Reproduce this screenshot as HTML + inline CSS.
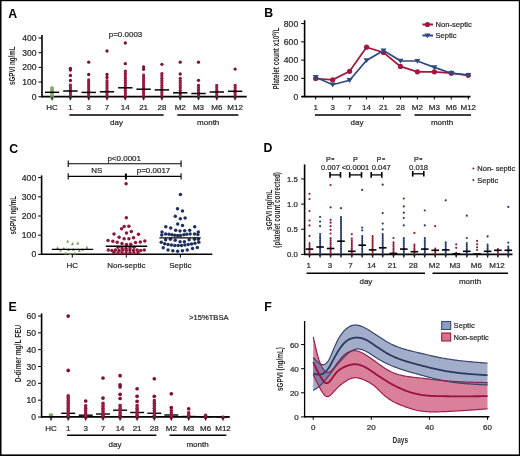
<!DOCTYPE html>
<html><head><meta charset="utf-8"><style>
html,body{margin:0;padding:0;background:#fff;}
svg{display:block;font-family:"Liberation Sans", sans-serif;will-change:transform;}
</style></head><body>
<svg width="520" height="456" viewBox="0 0 520 456">
<rect width="520" height="456" fill="#fff"/>
<rect x="0" y="0" width="520" height="1.2" fill="#000"/><rect x="0" y="0" width="1.5" height="456" fill="#000"/><rect x="518.8" y="0" width="1.2" height="456" fill="#000"/><rect x="0" y="454.4" width="520" height="1.6" fill="#000"/>
<text x="8.20" y="17.90" font-size="12.3" text-anchor="start" fill="#000" stroke="#000" stroke-width="0" font-weight="bold" >A</text>
<text x="264.20" y="17.00" font-size="12.3" text-anchor="start" fill="#000" stroke="#000" stroke-width="0" font-weight="bold" >B</text>
<text x="9.30" y="152.80" font-size="12.3" text-anchor="start" fill="#000" stroke="#000" stroke-width="0" font-weight="bold" >C</text>
<text x="263.60" y="152.30" font-size="12.3" text-anchor="start" fill="#000" stroke="#000" stroke-width="0" font-weight="bold" >D</text>
<text x="8.50" y="310.90" font-size="12.3" text-anchor="start" fill="#000" stroke="#000" stroke-width="0" font-weight="bold" >E</text>
<text x="264.20" y="310.90" font-size="12.3" text-anchor="start" fill="#000" stroke="#000" stroke-width="0" font-weight="bold" >F</text>
<line x1="42.00" y1="35.00" x2="42.00" y2="97.30" stroke="#000" stroke-width="1.6"/>
<line x1="38.50" y1="96.70" x2="42.00" y2="96.70" stroke="#000" stroke-width="1"/>
<text x="36.50" y="99.70" font-size="8.6" text-anchor="end" fill="#2a2a2a" stroke="#2a2a2a" stroke-width="0.22" font-weight="normal" >0</text>
<line x1="38.50" y1="82.03" x2="42.00" y2="82.03" stroke="#000" stroke-width="1"/>
<text x="36.50" y="85.03" font-size="8.6" text-anchor="end" fill="#2a2a2a" stroke="#2a2a2a" stroke-width="0.22" font-weight="normal" >100</text>
<line x1="38.50" y1="67.36" x2="42.00" y2="67.36" stroke="#000" stroke-width="1"/>
<text x="36.50" y="70.36" font-size="8.6" text-anchor="end" fill="#2a2a2a" stroke="#2a2a2a" stroke-width="0.22" font-weight="normal" >200</text>
<line x1="38.50" y1="52.69" x2="42.00" y2="52.69" stroke="#000" stroke-width="1"/>
<text x="36.50" y="55.69" font-size="8.6" text-anchor="end" fill="#2a2a2a" stroke="#2a2a2a" stroke-width="0.22" font-weight="normal" >300</text>
<line x1="38.50" y1="38.02" x2="42.00" y2="38.02" stroke="#000" stroke-width="1"/>
<text x="36.50" y="41.02" font-size="8.6" text-anchor="end" fill="#2a2a2a" stroke="#2a2a2a" stroke-width="0.22" font-weight="normal" >400</text>
<line x1="41.20" y1="96.60" x2="246.70" y2="96.60" stroke="#000" stroke-width="1.6"/>
<text x="52.10" y="110.20" font-size="8" text-anchor="middle" fill="#2a2a2a" stroke="#2a2a2a" stroke-width="0.22" font-weight="normal" >HC</text>
<text x="70.40" y="110.20" font-size="8" text-anchor="middle" fill="#2a2a2a" stroke="#2a2a2a" stroke-width="0.22" font-weight="normal" >1</text>
<text x="88.70" y="110.20" font-size="8" text-anchor="middle" fill="#2a2a2a" stroke="#2a2a2a" stroke-width="0.22" font-weight="normal" >3</text>
<text x="107.00" y="110.20" font-size="8" text-anchor="middle" fill="#2a2a2a" stroke="#2a2a2a" stroke-width="0.22" font-weight="normal" >7</text>
<text x="125.30" y="110.20" font-size="8" text-anchor="middle" fill="#2a2a2a" stroke="#2a2a2a" stroke-width="0.22" font-weight="normal" >14</text>
<text x="143.60" y="110.20" font-size="8" text-anchor="middle" fill="#2a2a2a" stroke="#2a2a2a" stroke-width="0.22" font-weight="normal" >21</text>
<text x="161.90" y="110.20" font-size="8" text-anchor="middle" fill="#2a2a2a" stroke="#2a2a2a" stroke-width="0.22" font-weight="normal" >28</text>
<text x="180.20" y="110.20" font-size="8" text-anchor="middle" fill="#2a2a2a" stroke="#2a2a2a" stroke-width="0.22" font-weight="normal" >M2</text>
<text x="198.50" y="110.20" font-size="8" text-anchor="middle" fill="#2a2a2a" stroke="#2a2a2a" stroke-width="0.22" font-weight="normal" >M3</text>
<text x="216.80" y="110.20" font-size="8" text-anchor="middle" fill="#2a2a2a" stroke="#2a2a2a" stroke-width="0.22" font-weight="normal" >M6</text>
<text x="235.10" y="110.20" font-size="8" text-anchor="middle" fill="#2a2a2a" stroke="#2a2a2a" stroke-width="0.22" font-weight="normal" >M12</text>
<line x1="69.40" y1="115.00" x2="163.60" y2="115.00" stroke="#000" stroke-width="1.5"/>
<line x1="177.30" y1="115.00" x2="238.40" y2="115.00" stroke="#000" stroke-width="1.5"/>
<text x="116.50" y="125.30" font-size="8" text-anchor="middle" fill="#2a2a2a" stroke="#2a2a2a" stroke-width="0.22" font-weight="normal" >day</text>
<text x="208.20" y="125.30" font-size="8" text-anchor="middle" fill="#2a2a2a" stroke="#2a2a2a" stroke-width="0.22" font-weight="normal" >month</text>
<text transform="translate(15.30,65.70) rotate(-90)" x="-19.25" y="0" font-size="8.5" text-anchor="start" textLength="38.5" lengthAdjust="spacingAndGlyphs" fill="#2a2a2a" font-weight="bold">sGPVI ng/mL</text>
<text x="125.50" y="37.00" font-size="8" text-anchor="middle" fill="#2a2a2a" stroke="#2a2a2a" stroke-width="0.22" font-weight="normal" >p=0.0003</text>
<rect x="50.71" y="86.75" width="2.78" height="10.90" fill="#82a763"/>
<circle cx="52.10" cy="97.65" r="1.85" fill="#82a763"/>
<circle cx="52.10" cy="95.25" r="1.85" fill="#82a763"/>
<circle cx="52.10" cy="92.85" r="1.85" fill="#82a763"/>
<circle cx="52.10" cy="90.45" r="1.85" fill="#82a763"/>
<circle cx="52.10" cy="88.05" r="1.85" fill="#82a763"/>
<line x1="45.00" y1="92.30" x2="59.20" y2="92.30" stroke="#000" stroke-width="1.5"/>
<circle cx="70.40" cy="68.30" r="1.65" fill="#7e1032"/>
<circle cx="70.40" cy="70.00" r="1.65" fill="#7e1032"/>
<circle cx="70.40" cy="75.50" r="1.65" fill="#7e1032"/>
<circle cx="70.40" cy="80.50" r="1.65" fill="#7e1032"/>
<rect x="69.24" y="83.55" width="2.33" height="13.90" fill="#961a42"/>
<circle cx="70.40" cy="97.45" r="1.55" fill="#961a42"/>
<circle cx="70.40" cy="95.05" r="1.55" fill="#961a42"/>
<circle cx="70.40" cy="92.65" r="1.55" fill="#961a42"/>
<circle cx="70.40" cy="90.25" r="1.55" fill="#961a42"/>
<circle cx="70.40" cy="87.85" r="1.55" fill="#961a42"/>
<circle cx="70.40" cy="85.45" r="1.55" fill="#961a42"/>
<circle cx="88.70" cy="62.20" r="1.65" fill="#7e1032"/>
<circle cx="88.70" cy="74.50" r="1.65" fill="#7e1032"/>
<rect x="87.54" y="78.35" width="2.33" height="19.10" fill="#961a42"/>
<circle cx="88.70" cy="97.45" r="1.55" fill="#961a42"/>
<circle cx="88.70" cy="95.05" r="1.55" fill="#961a42"/>
<circle cx="88.70" cy="92.65" r="1.55" fill="#961a42"/>
<circle cx="88.70" cy="90.25" r="1.55" fill="#961a42"/>
<circle cx="88.70" cy="87.85" r="1.55" fill="#961a42"/>
<circle cx="88.70" cy="85.45" r="1.55" fill="#961a42"/>
<circle cx="88.70" cy="83.05" r="1.55" fill="#961a42"/>
<circle cx="88.70" cy="80.65" r="1.55" fill="#961a42"/>
<circle cx="107.00" cy="51.00" r="1.65" fill="#7e1032"/>
<circle cx="107.00" cy="74.50" r="1.65" fill="#7e1032"/>
<circle cx="107.00" cy="77.50" r="1.65" fill="#7e1032"/>
<rect x="105.84" y="80.55" width="2.33" height="16.90" fill="#961a42"/>
<circle cx="107.00" cy="97.45" r="1.55" fill="#961a42"/>
<circle cx="107.00" cy="95.05" r="1.55" fill="#961a42"/>
<circle cx="107.00" cy="92.65" r="1.55" fill="#961a42"/>
<circle cx="107.00" cy="90.25" r="1.55" fill="#961a42"/>
<circle cx="107.00" cy="87.85" r="1.55" fill="#961a42"/>
<circle cx="107.00" cy="85.45" r="1.55" fill="#961a42"/>
<circle cx="107.00" cy="83.05" r="1.55" fill="#961a42"/>
<circle cx="107.00" cy="80.65" r="1.55" fill="#961a42"/>
<circle cx="125.30" cy="43.00" r="1.65" fill="#7e1032"/>
<circle cx="125.30" cy="63.70" r="1.65" fill="#7e1032"/>
<rect x="124.14" y="69.95" width="2.33" height="27.50" fill="#961a42"/>
<circle cx="125.30" cy="97.45" r="1.55" fill="#961a42"/>
<circle cx="125.30" cy="95.05" r="1.55" fill="#961a42"/>
<circle cx="125.30" cy="92.65" r="1.55" fill="#961a42"/>
<circle cx="125.30" cy="90.25" r="1.55" fill="#961a42"/>
<circle cx="125.30" cy="87.85" r="1.55" fill="#961a42"/>
<circle cx="125.30" cy="85.45" r="1.55" fill="#961a42"/>
<circle cx="125.30" cy="83.05" r="1.55" fill="#961a42"/>
<circle cx="125.30" cy="80.65" r="1.55" fill="#961a42"/>
<circle cx="125.30" cy="78.25" r="1.55" fill="#961a42"/>
<circle cx="125.30" cy="75.85" r="1.55" fill="#961a42"/>
<circle cx="125.30" cy="73.45" r="1.55" fill="#961a42"/>
<circle cx="125.30" cy="71.05" r="1.55" fill="#961a42"/>
<circle cx="143.60" cy="67.00" r="1.65" fill="#7e1032"/>
<circle cx="143.60" cy="69.30" r="1.65" fill="#7e1032"/>
<rect x="142.44" y="73.55" width="2.33" height="23.90" fill="#961a42"/>
<circle cx="143.60" cy="97.45" r="1.55" fill="#961a42"/>
<circle cx="143.60" cy="95.05" r="1.55" fill="#961a42"/>
<circle cx="143.60" cy="92.65" r="1.55" fill="#961a42"/>
<circle cx="143.60" cy="90.25" r="1.55" fill="#961a42"/>
<circle cx="143.60" cy="87.85" r="1.55" fill="#961a42"/>
<circle cx="143.60" cy="85.45" r="1.55" fill="#961a42"/>
<circle cx="143.60" cy="83.05" r="1.55" fill="#961a42"/>
<circle cx="143.60" cy="80.65" r="1.55" fill="#961a42"/>
<circle cx="143.60" cy="78.25" r="1.55" fill="#961a42"/>
<circle cx="143.60" cy="75.85" r="1.55" fill="#961a42"/>
<circle cx="161.90" cy="64.30" r="1.65" fill="#7e1032"/>
<rect x="160.74" y="72.55" width="2.33" height="24.90" fill="#961a42"/>
<circle cx="161.90" cy="97.45" r="1.55" fill="#961a42"/>
<circle cx="161.90" cy="95.05" r="1.55" fill="#961a42"/>
<circle cx="161.90" cy="92.65" r="1.55" fill="#961a42"/>
<circle cx="161.90" cy="90.25" r="1.55" fill="#961a42"/>
<circle cx="161.90" cy="87.85" r="1.55" fill="#961a42"/>
<circle cx="161.90" cy="85.45" r="1.55" fill="#961a42"/>
<circle cx="161.90" cy="83.05" r="1.55" fill="#961a42"/>
<circle cx="161.90" cy="80.65" r="1.55" fill="#961a42"/>
<circle cx="161.90" cy="78.25" r="1.55" fill="#961a42"/>
<circle cx="161.90" cy="75.85" r="1.55" fill="#961a42"/>
<circle cx="161.90" cy="73.45" r="1.55" fill="#961a42"/>
<circle cx="180.20" cy="62.20" r="1.65" fill="#7e1032"/>
<circle cx="180.20" cy="74.00" r="1.65" fill="#7e1032"/>
<rect x="179.04" y="77.65" width="2.33" height="19.80" fill="#961a42"/>
<circle cx="180.20" cy="97.45" r="1.55" fill="#961a42"/>
<circle cx="180.20" cy="95.05" r="1.55" fill="#961a42"/>
<circle cx="180.20" cy="92.65" r="1.55" fill="#961a42"/>
<circle cx="180.20" cy="90.25" r="1.55" fill="#961a42"/>
<circle cx="180.20" cy="87.85" r="1.55" fill="#961a42"/>
<circle cx="180.20" cy="85.45" r="1.55" fill="#961a42"/>
<circle cx="180.20" cy="83.05" r="1.55" fill="#961a42"/>
<circle cx="180.20" cy="80.65" r="1.55" fill="#961a42"/>
<circle cx="180.20" cy="78.25" r="1.55" fill="#961a42"/>
<circle cx="198.50" cy="62.20" r="1.65" fill="#7e1032"/>
<circle cx="198.50" cy="80.30" r="1.65" fill="#7e1032"/>
<rect x="197.34" y="83.95" width="2.33" height="13.50" fill="#961a42"/>
<circle cx="198.50" cy="97.45" r="1.55" fill="#961a42"/>
<circle cx="198.50" cy="95.05" r="1.55" fill="#961a42"/>
<circle cx="198.50" cy="92.65" r="1.55" fill="#961a42"/>
<circle cx="198.50" cy="90.25" r="1.55" fill="#961a42"/>
<circle cx="198.50" cy="87.85" r="1.55" fill="#961a42"/>
<circle cx="198.50" cy="85.45" r="1.55" fill="#961a42"/>
<rect x="215.64" y="84.05" width="2.33" height="13.40" fill="#961a42"/>
<circle cx="216.80" cy="97.45" r="1.55" fill="#961a42"/>
<circle cx="216.80" cy="95.05" r="1.55" fill="#961a42"/>
<circle cx="216.80" cy="92.65" r="1.55" fill="#961a42"/>
<circle cx="216.80" cy="90.25" r="1.55" fill="#961a42"/>
<circle cx="216.80" cy="87.85" r="1.55" fill="#961a42"/>
<circle cx="216.80" cy="85.45" r="1.55" fill="#961a42"/>
<circle cx="235.10" cy="69.10" r="1.65" fill="#7e1032"/>
<rect x="233.94" y="83.95" width="2.33" height="13.50" fill="#961a42"/>
<circle cx="235.10" cy="97.45" r="1.55" fill="#961a42"/>
<circle cx="235.10" cy="95.05" r="1.55" fill="#961a42"/>
<circle cx="235.10" cy="92.65" r="1.55" fill="#961a42"/>
<circle cx="235.10" cy="90.25" r="1.55" fill="#961a42"/>
<circle cx="235.10" cy="87.85" r="1.55" fill="#961a42"/>
<circle cx="235.10" cy="85.45" r="1.55" fill="#961a42"/>
<line x1="63.20" y1="91.00" x2="77.60" y2="91.00" stroke="#000" stroke-width="1.5"/>
<line x1="81.50" y1="92.40" x2="95.90" y2="92.40" stroke="#000" stroke-width="1.5"/>
<line x1="99.80" y1="91.80" x2="114.20" y2="91.80" stroke="#000" stroke-width="1.5"/>
<line x1="118.10" y1="87.80" x2="132.50" y2="87.80" stroke="#000" stroke-width="1.5"/>
<line x1="136.40" y1="89.20" x2="150.80" y2="89.20" stroke="#000" stroke-width="1.5"/>
<line x1="154.70" y1="89.90" x2="169.10" y2="89.90" stroke="#000" stroke-width="1.5"/>
<line x1="173.00" y1="92.80" x2="187.40" y2="92.80" stroke="#000" stroke-width="1.5"/>
<line x1="191.30" y1="93.50" x2="205.70" y2="93.50" stroke="#000" stroke-width="1.5"/>
<line x1="209.60" y1="92.00" x2="224.00" y2="92.00" stroke="#000" stroke-width="1.5"/>
<line x1="227.90" y1="91.30" x2="242.30" y2="91.30" stroke="#000" stroke-width="1.5"/>
<line x1="52.10" y1="96.60" x2="52.10" y2="100.20" stroke="#222" stroke-width="1.3"/>
<line x1="70.40" y1="96.60" x2="70.40" y2="100.20" stroke="#222" stroke-width="1.3"/>
<line x1="88.70" y1="96.60" x2="88.70" y2="100.20" stroke="#222" stroke-width="1.3"/>
<line x1="107.00" y1="96.60" x2="107.00" y2="100.20" stroke="#222" stroke-width="1.3"/>
<line x1="125.30" y1="96.60" x2="125.30" y2="100.20" stroke="#222" stroke-width="1.3"/>
<line x1="143.60" y1="96.60" x2="143.60" y2="100.20" stroke="#222" stroke-width="1.3"/>
<line x1="161.90" y1="96.60" x2="161.90" y2="100.20" stroke="#222" stroke-width="1.3"/>
<line x1="180.20" y1="96.60" x2="180.20" y2="100.20" stroke="#222" stroke-width="1.3"/>
<line x1="198.50" y1="96.60" x2="198.50" y2="100.20" stroke="#222" stroke-width="1.3"/>
<line x1="216.80" y1="96.60" x2="216.80" y2="100.20" stroke="#222" stroke-width="1.3"/>
<line x1="235.10" y1="96.60" x2="235.10" y2="100.20" stroke="#222" stroke-width="1.3"/>
<line x1="304.60" y1="20.20" x2="304.60" y2="97.20" stroke="#000" stroke-width="1.6"/>
<line x1="301.10" y1="96.60" x2="304.60" y2="96.60" stroke="#000" stroke-width="1"/>
<text x="298.20" y="99.60" font-size="8.6" text-anchor="end" fill="#2a2a2a" stroke="#2a2a2a" stroke-width="0.22" font-weight="normal" >0</text>
<line x1="301.10" y1="78.35" x2="304.60" y2="78.35" stroke="#000" stroke-width="1"/>
<text x="298.20" y="81.35" font-size="8.6" text-anchor="end" fill="#2a2a2a" stroke="#2a2a2a" stroke-width="0.22" font-weight="normal" >200</text>
<line x1="301.10" y1="60.10" x2="304.60" y2="60.10" stroke="#000" stroke-width="1"/>
<text x="298.20" y="63.10" font-size="8.6" text-anchor="end" fill="#2a2a2a" stroke="#2a2a2a" stroke-width="0.22" font-weight="normal" >400</text>
<line x1="301.10" y1="41.85" x2="304.60" y2="41.85" stroke="#000" stroke-width="1"/>
<text x="298.20" y="44.85" font-size="8.6" text-anchor="end" fill="#2a2a2a" stroke="#2a2a2a" stroke-width="0.22" font-weight="normal" >600</text>
<line x1="301.10" y1="23.60" x2="304.60" y2="23.60" stroke="#000" stroke-width="1"/>
<text x="298.20" y="26.60" font-size="8.6" text-anchor="end" fill="#2a2a2a" stroke="#2a2a2a" stroke-width="0.22" font-weight="normal" >800</text>
<line x1="301.50" y1="96.60" x2="470.50" y2="96.60" stroke="#000" stroke-width="1.6"/>
<line x1="315.70" y1="96.60" x2="315.70" y2="99.50" stroke="#000" stroke-width="1"/>
<line x1="332.65" y1="96.60" x2="332.65" y2="99.50" stroke="#000" stroke-width="1"/>
<line x1="349.60" y1="96.60" x2="349.60" y2="99.50" stroke="#000" stroke-width="1"/>
<line x1="366.55" y1="96.60" x2="366.55" y2="99.50" stroke="#000" stroke-width="1"/>
<line x1="383.50" y1="96.60" x2="383.50" y2="99.50" stroke="#000" stroke-width="1"/>
<line x1="400.45" y1="96.60" x2="400.45" y2="99.50" stroke="#000" stroke-width="1"/>
<line x1="417.40" y1="96.60" x2="417.40" y2="99.50" stroke="#000" stroke-width="1"/>
<line x1="434.35" y1="96.60" x2="434.35" y2="99.50" stroke="#000" stroke-width="1"/>
<line x1="451.30" y1="96.60" x2="451.30" y2="99.50" stroke="#000" stroke-width="1"/>
<line x1="468.25" y1="96.60" x2="468.25" y2="99.50" stroke="#000" stroke-width="1"/>
<text x="315.70" y="110.20" font-size="8" text-anchor="middle" fill="#2a2a2a" stroke="#2a2a2a" stroke-width="0.22" font-weight="normal" >1</text>
<text x="332.65" y="110.20" font-size="8" text-anchor="middle" fill="#2a2a2a" stroke="#2a2a2a" stroke-width="0.22" font-weight="normal" >3</text>
<text x="349.60" y="110.20" font-size="8" text-anchor="middle" fill="#2a2a2a" stroke="#2a2a2a" stroke-width="0.22" font-weight="normal" >7</text>
<text x="366.55" y="110.20" font-size="8" text-anchor="middle" fill="#2a2a2a" stroke="#2a2a2a" stroke-width="0.22" font-weight="normal" >14</text>
<text x="383.50" y="110.20" font-size="8" text-anchor="middle" fill="#2a2a2a" stroke="#2a2a2a" stroke-width="0.22" font-weight="normal" >21</text>
<text x="400.45" y="110.20" font-size="8" text-anchor="middle" fill="#2a2a2a" stroke="#2a2a2a" stroke-width="0.22" font-weight="normal" >28</text>
<text x="417.40" y="110.20" font-size="8" text-anchor="middle" fill="#2a2a2a" stroke="#2a2a2a" stroke-width="0.22" font-weight="normal" >M2</text>
<text x="434.35" y="110.20" font-size="8" text-anchor="middle" fill="#2a2a2a" stroke="#2a2a2a" stroke-width="0.22" font-weight="normal" >M3</text>
<text x="451.30" y="110.20" font-size="8" text-anchor="middle" fill="#2a2a2a" stroke="#2a2a2a" stroke-width="0.22" font-weight="normal" >M6</text>
<text x="468.25" y="110.20" font-size="8" text-anchor="middle" fill="#2a2a2a" stroke="#2a2a2a" stroke-width="0.22" font-weight="normal" >M12</text>
<line x1="315.00" y1="115.00" x2="400.80" y2="115.00" stroke="#000" stroke-width="1.5"/>
<line x1="414.50" y1="115.00" x2="471.00" y2="115.00" stroke="#000" stroke-width="1.5"/>
<text x="357.00" y="125.30" font-size="8" text-anchor="middle" fill="#2a2a2a" stroke="#2a2a2a" stroke-width="0.22" font-weight="normal" >day</text>
<text x="442.00" y="125.30" font-size="8" text-anchor="middle" fill="#2a2a2a" stroke="#2a2a2a" stroke-width="0.22" font-weight="normal" >month</text>
<text transform="translate(278.70,58.60) rotate(-90)" x="-31.00" y="0" font-size="8.5" text-anchor="start" textLength="62" lengthAdjust="spacingAndGlyphs" fill="#2a2a2a" font-weight="bold">Platelet count x10<tspan font-size="6" dy="-3">9</tspan><tspan dy="3">/L</tspan></text>
<polyline fill="none" stroke="#a3173f" stroke-width="1.7" points="315.7,78.5 332.6,79.8 349.6,71.3 366.5,47.2 383.5,52.5 400.4,66.4 417.4,71.8 434.3,71.8 451.3,73.2 468.2,75.3"/>
<circle cx="315.70" cy="78.50" r="2.6" fill="#a3173f"/>
<circle cx="332.65" cy="79.80" r="2.6" fill="#a3173f"/>
<circle cx="349.60" cy="71.30" r="2.6" fill="#a3173f"/>
<circle cx="366.55" cy="47.20" r="2.6" fill="#a3173f"/>
<circle cx="383.50" cy="52.50" r="2.6" fill="#a3173f"/>
<circle cx="400.45" cy="66.40" r="2.6" fill="#a3173f"/>
<circle cx="417.40" cy="71.80" r="2.6" fill="#a3173f"/>
<circle cx="434.35" cy="71.80" r="2.6" fill="#a3173f"/>
<circle cx="451.30" cy="73.20" r="2.6" fill="#a3173f"/>
<circle cx="468.25" cy="75.30" r="2.6" fill="#a3173f"/>
<polyline fill="none" stroke="#2d4a7c" stroke-width="1.7" points="315.7,77.2 332.6,84.7 349.6,80.2 366.5,60.4 383.5,50.6 400.4,60.8 417.4,61.0 434.3,67.4 451.3,73.2 468.2,75.0"/>
<polygon points="312.70,75.10 318.70,75.10 315.70,79.90" fill="#2d4a7c"/>
<polygon points="329.65,82.60 335.65,82.60 332.65,87.40" fill="#2d4a7c"/>
<polygon points="346.60,78.10 352.60,78.10 349.60,82.90" fill="#2d4a7c"/>
<polygon points="363.55,58.30 369.55,58.30 366.55,63.10" fill="#2d4a7c"/>
<polygon points="380.50,48.50 386.50,48.50 383.50,53.30" fill="#2d4a7c"/>
<polygon points="397.45,58.70 403.45,58.70 400.45,63.50" fill="#2d4a7c"/>
<polygon points="414.40,58.90 420.40,58.90 417.40,63.70" fill="#2d4a7c"/>
<polygon points="431.35,65.30 437.35,65.30 434.35,70.10" fill="#2d4a7c"/>
<polygon points="448.30,71.10 454.30,71.10 451.30,75.90" fill="#2d4a7c"/>
<polygon points="465.25,72.90 471.25,72.90 468.25,77.70" fill="#2d4a7c"/>
<line x1="422.40" y1="24.50" x2="433.00" y2="24.50" stroke="#a3173f" stroke-width="2"/>
<circle cx="427.50" cy="24.50" r="2.6" fill="#a3173f"/>
<text x="435.50" y="27.30" font-size="7.6" text-anchor="start" fill="#2a2a2a" stroke="#2a2a2a" stroke-width="0.22" font-weight="normal" >Non-septic</text>
<line x1="422.40" y1="35.50" x2="433.00" y2="35.50" stroke="#2d4a7c" stroke-width="2"/>
<polygon points="424.50,33.40 430.50,33.40 427.50,38.20" fill="#2d4a7c"/>
<text x="435.50" y="38.30" font-size="7.6" text-anchor="start" fill="#2a2a2a" stroke="#2a2a2a" stroke-width="0.22" font-weight="normal" >Septic</text>
<line x1="41.60" y1="175.40" x2="41.60" y2="255.00" stroke="#000" stroke-width="1.6"/>
<line x1="38.10" y1="254.40" x2="41.60" y2="254.40" stroke="#000" stroke-width="1"/>
<text x="36.20" y="257.40" font-size="8.6" text-anchor="end" fill="#2a2a2a" stroke="#2a2a2a" stroke-width="0.22" font-weight="normal" >0</text>
<line x1="38.10" y1="235.20" x2="41.60" y2="235.20" stroke="#000" stroke-width="1"/>
<text x="36.20" y="238.20" font-size="8.6" text-anchor="end" fill="#2a2a2a" stroke="#2a2a2a" stroke-width="0.22" font-weight="normal" >100</text>
<line x1="38.10" y1="216.00" x2="41.60" y2="216.00" stroke="#000" stroke-width="1"/>
<text x="36.20" y="219.00" font-size="8.6" text-anchor="end" fill="#2a2a2a" stroke="#2a2a2a" stroke-width="0.22" font-weight="normal" >200</text>
<line x1="38.10" y1="196.80" x2="41.60" y2="196.80" stroke="#000" stroke-width="1"/>
<text x="36.20" y="199.80" font-size="8.6" text-anchor="end" fill="#2a2a2a" stroke="#2a2a2a" stroke-width="0.22" font-weight="normal" >300</text>
<line x1="38.10" y1="177.60" x2="41.60" y2="177.60" stroke="#000" stroke-width="1"/>
<text x="36.20" y="180.60" font-size="8.6" text-anchor="end" fill="#2a2a2a" stroke="#2a2a2a" stroke-width="0.22" font-weight="normal" >400</text>
<line x1="41.00" y1="254.30" x2="212.30" y2="254.30" stroke="#000" stroke-width="1.6"/>
<line x1="72.30" y1="254.30" x2="72.30" y2="257.50" stroke="#000" stroke-width="1"/>
<line x1="126.30" y1="254.30" x2="126.30" y2="257.50" stroke="#000" stroke-width="1"/>
<line x1="180.40" y1="254.30" x2="180.40" y2="257.50" stroke="#000" stroke-width="1"/>
<text x="72.30" y="267.80" font-size="8" text-anchor="middle" fill="#2a2a2a" stroke="#2a2a2a" stroke-width="0.22" font-weight="normal" >HC</text>
<text x="126.30" y="267.80" font-size="8" text-anchor="middle" fill="#2a2a2a" stroke="#2a2a2a" stroke-width="0.22" font-weight="normal" >Non-septic</text>
<text x="180.40" y="267.80" font-size="8" text-anchor="middle" fill="#2a2a2a" stroke="#2a2a2a" stroke-width="0.22" font-weight="normal" >Septic</text>
<text transform="translate(16.20,215.30) rotate(-90)" x="-19.25" y="0" font-size="8.5" text-anchor="start" textLength="38.5" lengthAdjust="spacingAndGlyphs" fill="#2a2a2a" font-weight="bold">sGPVI ng/mL</text>
<line x1="68.20" y1="163.80" x2="181.10" y2="163.80" stroke="#000" stroke-width="1.1"/>
<line x1="68.20" y1="160.50" x2="68.20" y2="167.00" stroke="#000" stroke-width="1.1"/>
<line x1="181.10" y1="160.50" x2="181.10" y2="167.00" stroke="#000" stroke-width="1.1"/>
<line x1="68.20" y1="176.40" x2="181.10" y2="176.40" stroke="#000" stroke-width="1.1"/>
<line x1="68.20" y1="173.20" x2="68.20" y2="179.60" stroke="#000" stroke-width="1.1"/>
<line x1="181.10" y1="173.20" x2="181.10" y2="179.60" stroke="#000" stroke-width="1.1"/>
<line x1="125.90" y1="173.50" x2="125.90" y2="179.50" stroke="#000" stroke-width="2"/>
<text x="124.20" y="160.50" font-size="8" text-anchor="middle" fill="#2a2a2a" stroke="#2a2a2a" stroke-width="0.22" font-weight="normal" >p&lt;0.0001</text>
<text x="96.90" y="173.30" font-size="8" text-anchor="middle" fill="#2a2a2a" stroke="#2a2a2a" stroke-width="0.22" font-weight="normal" >NS</text>
<text x="153.50" y="173.30" font-size="8" text-anchor="middle" fill="#2a2a2a" stroke="#2a2a2a" stroke-width="0.22" font-weight="normal" >p=0.0017</text>
<polygon points="67.70,239.70 69.22,242.50 66.18,242.50" fill="#6f9a4e"/>
<polygon points="72.50,242.10 74.02,244.90 70.98,244.90" fill="#6f9a4e"/>
<polygon points="77.80,241.60 79.32,244.40 76.28,244.40" fill="#6f9a4e"/>
<polygon points="57.60,246.40 59.12,249.20 56.08,249.20" fill="#6f9a4e"/>
<polygon points="60.50,248.80 62.02,251.60 58.98,251.60" fill="#6f9a4e"/>
<polygon points="63.90,246.90 65.42,249.70 62.38,249.70" fill="#6f9a4e"/>
<polygon points="68.50,247.90 70.02,250.70 66.98,250.70" fill="#6f9a4e"/>
<polygon points="73.50,247.90 75.02,250.70 71.98,250.70" fill="#6f9a4e"/>
<polygon points="79.30,249.30 80.82,252.10 77.78,252.10" fill="#6f9a4e"/>
<polygon points="82.60,247.90 84.12,250.70 81.08,250.70" fill="#6f9a4e"/>
<polygon points="86.90,245.90 88.42,248.70 85.38,248.70" fill="#6f9a4e"/>
<polygon points="65.80,251.70 67.32,254.50 64.28,254.50" fill="#6f9a4e"/>
<polygon points="70.10,252.20 71.62,255.00 68.58,255.00" fill="#6f9a4e"/>
<polygon points="74.90,251.70 76.42,254.50 73.38,254.50" fill="#6f9a4e"/>
<line x1="51.80" y1="249.40" x2="93.20" y2="249.40" stroke="#000" stroke-width="1.4"/>
<circle cx="126.10" cy="183.80" r="1.75" fill="#8c1638"/>
<circle cx="126.30" cy="217.80" r="1.75" fill="#8c1638"/>
<circle cx="121.60" cy="228.70" r="1.75" fill="#8c1638"/>
<circle cx="124.20" cy="226.60" r="1.75" fill="#8c1638"/>
<circle cx="128.90" cy="226.30" r="1.75" fill="#8c1638"/>
<circle cx="126.50" cy="232.90" r="1.75" fill="#8c1638"/>
<circle cx="131.30" cy="231.40" r="1.75" fill="#8c1638"/>
<circle cx="114.00" cy="234.00" r="1.75" fill="#8c1638"/>
<circle cx="138.50" cy="234.30" r="1.75" fill="#8c1638"/>
<circle cx="119.10" cy="237.20" r="1.75" fill="#8c1638"/>
<circle cx="124.10" cy="238.70" r="1.75" fill="#8c1638"/>
<circle cx="128.90" cy="238.70" r="1.75" fill="#8c1638"/>
<circle cx="133.50" cy="237.70" r="1.75" fill="#8c1638"/>
<circle cx="108.00" cy="240.40" r="1.75" fill="#8c1638"/>
<circle cx="112.80" cy="241.30" r="1.75" fill="#8c1638"/>
<circle cx="117.20" cy="242.30" r="1.75" fill="#8c1638"/>
<circle cx="122.00" cy="243.50" r="1.75" fill="#8c1638"/>
<circle cx="126.50" cy="244.40" r="1.75" fill="#8c1638"/>
<circle cx="130.80" cy="244.20" r="1.75" fill="#8c1638"/>
<circle cx="135.50" cy="242.50" r="1.75" fill="#8c1638"/>
<circle cx="140.30" cy="242.00" r="1.75" fill="#8c1638"/>
<circle cx="144.80" cy="241.10" r="1.75" fill="#8c1638"/>
<circle cx="108.30" cy="250.00" r="1.75" fill="#8c1638"/>
<circle cx="111.90" cy="250.60" r="1.75" fill="#8c1638"/>
<circle cx="115.50" cy="250.00" r="1.75" fill="#8c1638"/>
<circle cx="119.10" cy="250.60" r="1.75" fill="#8c1638"/>
<circle cx="122.70" cy="250.00" r="1.75" fill="#8c1638"/>
<circle cx="126.30" cy="250.60" r="1.75" fill="#8c1638"/>
<circle cx="129.90" cy="250.00" r="1.75" fill="#8c1638"/>
<circle cx="133.50" cy="250.60" r="1.75" fill="#8c1638"/>
<circle cx="137.10" cy="250.00" r="1.75" fill="#8c1638"/>
<circle cx="140.70" cy="250.60" r="1.75" fill="#8c1638"/>
<circle cx="144.30" cy="250.00" r="1.75" fill="#8c1638"/>
<circle cx="118.00" cy="247.20" r="1.75" fill="#8c1638"/>
<circle cx="122.00" cy="247.80" r="1.75" fill="#8c1638"/>
<circle cx="126.00" cy="248.30" r="1.75" fill="#8c1638"/>
<circle cx="130.00" cy="247.80" r="1.75" fill="#8c1638"/>
<circle cx="134.00" cy="247.20" r="1.75" fill="#8c1638"/>
<circle cx="122.00" cy="252.80" r="1.75" fill="#8c1638"/>
<circle cx="126.00" cy="253.30" r="1.75" fill="#8c1638"/>
<circle cx="130.00" cy="252.80" r="1.75" fill="#8c1638"/>
<circle cx="118.00" cy="253.00" r="1.75" fill="#8c1638"/>
<circle cx="134.00" cy="253.00" r="1.75" fill="#8c1638"/>
<circle cx="114.00" cy="252.50" r="1.75" fill="#8c1638"/>
<circle cx="138.00" cy="252.50" r="1.75" fill="#8c1638"/>
<line x1="105.80" y1="246.20" x2="147.20" y2="246.20" stroke="#000" stroke-width="1.4"/>
<circle cx="180.40" cy="194.60" r="1.75" fill="#1f3060"/>
<circle cx="177.50" cy="208.70" r="1.75" fill="#1f3060"/>
<circle cx="182.50" cy="211.10" r="1.75" fill="#1f3060"/>
<circle cx="175.30" cy="216.20" r="1.75" fill="#1f3060"/>
<circle cx="180.30" cy="218.80" r="1.75" fill="#1f3060"/>
<circle cx="185.10" cy="217.90" r="1.75" fill="#1f3060"/>
<circle cx="177.70" cy="223.90" r="1.75" fill="#1f3060"/>
<circle cx="182.50" cy="225.40" r="1.75" fill="#1f3060"/>
<circle cx="165.80" cy="226.80" r="1.75" fill="#1f3060"/>
<circle cx="170.70" cy="228.00" r="1.75" fill="#1f3060"/>
<circle cx="194.70" cy="226.80" r="1.75" fill="#1f3060"/>
<circle cx="175.70" cy="230.20" r="1.75" fill="#1f3060"/>
<circle cx="180.00" cy="231.10" r="1.75" fill="#1f3060"/>
<circle cx="184.70" cy="230.80" r="1.75" fill="#1f3060"/>
<circle cx="189.70" cy="230.20" r="1.75" fill="#1f3060"/>
<circle cx="162.00" cy="232.10" r="1.75" fill="#1f3060"/>
<circle cx="198.30" cy="232.10" r="1.75" fill="#1f3060"/>
<circle cx="165.62" cy="234.02" r="1.75" fill="#1f3060"/>
<circle cx="168.98" cy="234.31" r="1.75" fill="#1f3060"/>
<circle cx="171.87" cy="234.69" r="1.75" fill="#1f3060"/>
<circle cx="174.75" cy="235.27" r="1.75" fill="#1f3060"/>
<circle cx="177.63" cy="235.46" r="1.75" fill="#1f3060"/>
<circle cx="180.52" cy="235.46" r="1.75" fill="#1f3060"/>
<circle cx="183.88" cy="234.69" r="1.75" fill="#1f3060"/>
<circle cx="186.77" cy="234.31" r="1.75" fill="#1f3060"/>
<circle cx="190.13" cy="234.02" r="1.75" fill="#1f3060"/>
<circle cx="194.46" cy="234.02" r="1.75" fill="#1f3060"/>
<circle cx="161.77" cy="234.98" r="1.75" fill="#1f3060"/>
<circle cx="197.83" cy="234.50" r="1.75" fill="#1f3060"/>
<circle cx="170.42" cy="239.31" r="1.75" fill="#1f3060"/>
<circle cx="175.23" cy="240.27" r="1.75" fill="#1f3060"/>
<circle cx="180.04" cy="241.71" r="1.75" fill="#1f3060"/>
<circle cx="184.37" cy="241.71" r="1.75" fill="#1f3060"/>
<circle cx="189.17" cy="239.79" r="1.75" fill="#1f3060"/>
<circle cx="194.46" cy="239.31" r="1.75" fill="#1f3060"/>
<circle cx="165.62" cy="239.79" r="1.75" fill="#1f3060"/>
<circle cx="198.31" cy="239.31" r="1.75" fill="#1f3060"/>
<circle cx="161.29" cy="242.19" r="1.75" fill="#1f3060"/>
<circle cx="164.65" cy="243.63" r="1.75" fill="#1f3060"/>
<circle cx="168.02" cy="244.60" r="1.75" fill="#1f3060"/>
<circle cx="171.38" cy="245.08" r="1.75" fill="#1f3060"/>
<circle cx="174.75" cy="245.56" r="1.75" fill="#1f3060"/>
<circle cx="178.12" cy="245.56" r="1.75" fill="#1f3060"/>
<circle cx="181.48" cy="245.56" r="1.75" fill="#1f3060"/>
<circle cx="184.85" cy="245.08" r="1.75" fill="#1f3060"/>
<circle cx="188.21" cy="244.60" r="1.75" fill="#1f3060"/>
<circle cx="191.58" cy="244.12" r="1.75" fill="#1f3060"/>
<circle cx="194.94" cy="243.15" r="1.75" fill="#1f3060"/>
<circle cx="198.79" cy="242.19" r="1.75" fill="#1f3060"/>
<circle cx="163.21" cy="247.77" r="1.75" fill="#1f3060"/>
<circle cx="168.02" cy="249.88" r="1.75" fill="#1f3060"/>
<circle cx="172.83" cy="250.65" r="1.75" fill="#1f3060"/>
<circle cx="177.63" cy="251.33" r="1.75" fill="#1f3060"/>
<circle cx="182.44" cy="250.65" r="1.75" fill="#1f3060"/>
<circle cx="187.25" cy="249.88" r="1.75" fill="#1f3060"/>
<circle cx="192.54" cy="248.44" r="1.75" fill="#1f3060"/>
<circle cx="197.35" cy="247.48" r="1.75" fill="#1f3060"/>
<line x1="159.40" y1="237.90" x2="200.70" y2="237.90" stroke="#000" stroke-width="1.4"/>
<line x1="304.60" y1="164.40" x2="304.60" y2="255.00" stroke="#000" stroke-width="1.6"/>
<line x1="301.10" y1="254.40" x2="304.60" y2="254.40" stroke="#000" stroke-width="1"/>
<text x="297.80" y="257.40" font-size="7.8" text-anchor="end" fill="#2a2a2a" stroke="#2a2a2a" stroke-width="0.22" font-weight="normal" >0.0</text>
<line x1="301.10" y1="229.25" x2="304.60" y2="229.25" stroke="#000" stroke-width="1"/>
<text x="297.80" y="232.25" font-size="7.8" text-anchor="end" fill="#2a2a2a" stroke="#2a2a2a" stroke-width="0.22" font-weight="normal" >0.5</text>
<line x1="301.10" y1="204.10" x2="304.60" y2="204.10" stroke="#000" stroke-width="1"/>
<text x="297.80" y="207.10" font-size="7.8" text-anchor="end" fill="#2a2a2a" stroke="#2a2a2a" stroke-width="0.22" font-weight="normal" >1.0</text>
<line x1="301.10" y1="178.95" x2="304.60" y2="178.95" stroke="#000" stroke-width="1"/>
<text x="297.80" y="181.95" font-size="7.8" text-anchor="end" fill="#2a2a2a" stroke="#2a2a2a" stroke-width="0.22" font-weight="normal" >1.5</text>
<line x1="304.00" y1="254.40" x2="512.50" y2="254.40" stroke="#000" stroke-width="1.6"/>
<text transform="translate(271.70,209.90) rotate(-90)" x="-20.00" y="0" font-size="8.3" text-anchor="start" textLength="40" lengthAdjust="spacingAndGlyphs" fill="#2a2a2a" font-weight="bold">sGPVI ng/mL</text>
<text transform="translate(280.00,209.90) rotate(-90)" x="-37.75" y="0" font-size="8.3" text-anchor="start" textLength="75.5" lengthAdjust="spacingAndGlyphs" fill="#2a2a2a" font-weight="bold">(platelet count corrected)</text>
<text x="308.80" y="268.00" font-size="8" text-anchor="middle" fill="#2a2a2a" stroke="#2a2a2a" stroke-width="0.22" font-weight="normal" >1</text>
<text x="329.90" y="268.00" font-size="8" text-anchor="middle" fill="#2a2a2a" stroke="#2a2a2a" stroke-width="0.22" font-weight="normal" >3</text>
<text x="350.40" y="268.00" font-size="8" text-anchor="middle" fill="#2a2a2a" stroke="#2a2a2a" stroke-width="0.22" font-weight="normal" >7</text>
<text x="371.60" y="268.00" font-size="8" text-anchor="middle" fill="#2a2a2a" stroke="#2a2a2a" stroke-width="0.22" font-weight="normal" >14</text>
<text x="392.20" y="268.00" font-size="8" text-anchor="middle" fill="#2a2a2a" stroke="#2a2a2a" stroke-width="0.22" font-weight="normal" >21</text>
<text x="413.30" y="268.00" font-size="8" text-anchor="middle" fill="#2a2a2a" stroke="#2a2a2a" stroke-width="0.22" font-weight="normal" >28</text>
<text x="434.30" y="268.00" font-size="8" text-anchor="middle" fill="#2a2a2a" stroke="#2a2a2a" stroke-width="0.22" font-weight="normal" >M2</text>
<text x="455.00" y="268.00" font-size="8" text-anchor="middle" fill="#2a2a2a" stroke="#2a2a2a" stroke-width="0.22" font-weight="normal" >M3</text>
<text x="476.30" y="268.00" font-size="8" text-anchor="middle" fill="#2a2a2a" stroke="#2a2a2a" stroke-width="0.22" font-weight="normal" >M6</text>
<text x="497.00" y="268.00" font-size="8" text-anchor="middle" fill="#2a2a2a" stroke="#2a2a2a" stroke-width="0.22" font-weight="normal" >M12</text>
<line x1="306.60" y1="273.20" x2="425.00" y2="273.20" stroke="#000" stroke-width="1.5"/>
<line x1="432.50" y1="273.20" x2="508.00" y2="273.20" stroke="#000" stroke-width="1.5"/>
<text x="365.90" y="283.50" font-size="8" text-anchor="middle" fill="#2a2a2a" stroke="#2a2a2a" stroke-width="0.22" font-weight="normal" >day</text>
<text x="470.00" y="283.50" font-size="8" text-anchor="middle" fill="#2a2a2a" stroke="#2a2a2a" stroke-width="0.22" font-weight="normal" >month</text>
<circle cx="309.50" cy="193.80" r="1.1" fill="#8e1a3c"/>
<circle cx="309.50" cy="199.00" r="1.1" fill="#8e1a3c"/>
<circle cx="309.50" cy="211.00" r="1.1" fill="#8e1a3c"/>
<circle cx="309.50" cy="220.50" r="1.1" fill="#8e1a3c"/>
<circle cx="309.50" cy="225.40" r="1.1" fill="#8e1a3c"/>
<circle cx="309.50" cy="235.90" r="1.1" fill="#8e1a3c"/>
<line x1="309.50" y1="255.50" x2="309.50" y2="242.90" stroke="#8e1a3c" stroke-width="2.0" stroke-linecap="round" stroke-dasharray="0.6 1.5"/>
<circle cx="330.60" cy="185.00" r="1.1" fill="#8e1a3c"/>
<circle cx="330.60" cy="207.30" r="1.1" fill="#8e1a3c"/>
<circle cx="330.60" cy="219.80" r="1.1" fill="#8e1a3c"/>
<circle cx="330.60" cy="222.70" r="1.1" fill="#8e1a3c"/>
<circle cx="330.60" cy="226.20" r="1.1" fill="#8e1a3c"/>
<circle cx="330.60" cy="229.80" r="1.1" fill="#8e1a3c"/>
<circle cx="330.60" cy="233.50" r="1.1" fill="#8e1a3c"/>
<line x1="330.60" y1="255.50" x2="330.60" y2="237.50" stroke="#8e1a3c" stroke-width="2.0" stroke-linecap="round" stroke-dasharray="0.6 1.5"/>
<circle cx="351.80" cy="234.10" r="1.1" fill="#8e1a3c"/>
<circle cx="351.80" cy="238.50" r="1.1" fill="#8e1a3c"/>
<line x1="351.80" y1="255.50" x2="351.80" y2="240.30" stroke="#8e1a3c" stroke-width="2.0" stroke-linecap="round" stroke-dasharray="0.6 1.5"/>
<line x1="372.60" y1="255.50" x2="372.60" y2="235.50" stroke="#8e1a3c" stroke-width="2.0" stroke-linecap="round" stroke-dasharray="0.6 1.5"/>
<circle cx="393.50" cy="238.00" r="1.1" fill="#8e1a3c"/>
<line x1="393.50" y1="255.50" x2="393.50" y2="241.20" stroke="#8e1a3c" stroke-width="2.0" stroke-linecap="round" stroke-dasharray="0.6 1.5"/>
<circle cx="414.40" cy="232.90" r="1.1" fill="#8e1a3c"/>
<line x1="414.40" y1="255.50" x2="414.40" y2="243.80" stroke="#8e1a3c" stroke-width="2.0" stroke-linecap="round" stroke-dasharray="0.6 1.5"/>
<circle cx="435.20" cy="226.20" r="1.1" fill="#8e1a3c"/>
<line x1="435.20" y1="255.50" x2="435.20" y2="248.20" stroke="#8e1a3c" stroke-width="2.0" stroke-linecap="round" stroke-dasharray="0.6 1.5"/>
<circle cx="456.20" cy="244.30" r="1.1" fill="#8e1a3c"/>
<circle cx="456.20" cy="247.80" r="1.1" fill="#8e1a3c"/>
<line x1="456.20" y1="255.50" x2="456.20" y2="251.70" stroke="#8e1a3c" stroke-width="2.0" stroke-linecap="round" stroke-dasharray="0.6 1.5"/>
<circle cx="477.10" cy="240.80" r="1.1" fill="#8e1a3c"/>
<circle cx="477.10" cy="244.30" r="1.1" fill="#8e1a3c"/>
<circle cx="477.10" cy="247.30" r="1.1" fill="#8e1a3c"/>
<circle cx="477.10" cy="250.00" r="1.1" fill="#8e1a3c"/>
<line x1="497.90" y1="255.50" x2="497.90" y2="249.00" stroke="#8e1a3c" stroke-width="2.0" stroke-linecap="round" stroke-dasharray="0.6 1.5"/>
<circle cx="320.10" cy="217.00" r="1.1" fill="#243c6a"/>
<circle cx="320.10" cy="221.50" r="1.1" fill="#243c6a"/>
<circle cx="320.10" cy="226.20" r="1.1" fill="#243c6a"/>
<circle cx="320.10" cy="234.00" r="1.1" fill="#243c6a"/>
<line x1="320.10" y1="255.50" x2="320.10" y2="236.00" stroke="#243c6a" stroke-width="2.0" stroke-linecap="round" stroke-dasharray="0.6 1.5"/>
<circle cx="341.00" cy="208.20" r="1.1" fill="#243c6a"/>
<line x1="341.00" y1="255.50" x2="341.00" y2="216.60" stroke="#243c6a" stroke-width="2.0" stroke-linecap="round" stroke-dasharray="0.6 1.5"/>
<circle cx="362.20" cy="189.90" r="1.1" fill="#243c6a"/>
<circle cx="362.20" cy="227.60" r="1.1" fill="#243c6a"/>
<circle cx="362.20" cy="230.30" r="1.1" fill="#243c6a"/>
<line x1="362.20" y1="255.50" x2="362.20" y2="235.90" stroke="#243c6a" stroke-width="2.0" stroke-linecap="round" stroke-dasharray="0.6 1.5"/>
<circle cx="382.70" cy="184.70" r="1.1" fill="#243c6a"/>
<circle cx="382.70" cy="213.10" r="1.1" fill="#243c6a"/>
<circle cx="382.70" cy="223.60" r="1.1" fill="#243c6a"/>
<circle cx="382.70" cy="229.40" r="1.1" fill="#243c6a"/>
<line x1="382.70" y1="255.50" x2="382.70" y2="233.80" stroke="#243c6a" stroke-width="2.0" stroke-linecap="round" stroke-dasharray="0.6 1.5"/>
<circle cx="403.80" cy="198.50" r="1.1" fill="#243c6a"/>
<circle cx="403.80" cy="206.40" r="1.1" fill="#243c6a"/>
<circle cx="403.80" cy="212.70" r="1.1" fill="#243c6a"/>
<circle cx="403.80" cy="218.00" r="1.1" fill="#243c6a"/>
<circle cx="403.80" cy="225.40" r="1.1" fill="#243c6a"/>
<line x1="403.80" y1="255.50" x2="403.80" y2="237.60" stroke="#243c6a" stroke-width="2.0" stroke-linecap="round" stroke-dasharray="0.6 1.5"/>
<circle cx="424.80" cy="210.50" r="1.1" fill="#243c6a"/>
<circle cx="424.80" cy="225.40" r="1.1" fill="#243c6a"/>
<line x1="424.80" y1="255.50" x2="424.80" y2="237.60" stroke="#243c6a" stroke-width="2.0" stroke-linecap="round" stroke-dasharray="0.6 1.5"/>
<circle cx="445.70" cy="200.30" r="1.1" fill="#243c6a"/>
<line x1="445.70" y1="255.50" x2="445.70" y2="242.00" stroke="#243c6a" stroke-width="2.0" stroke-linecap="round" stroke-dasharray="0.6 1.5"/>
<circle cx="466.80" cy="215.70" r="1.1" fill="#243c6a"/>
<circle cx="466.80" cy="238.00" r="1.1" fill="#243c6a"/>
<line x1="466.80" y1="255.50" x2="466.80" y2="242.90" stroke="#243c6a" stroke-width="2.0" stroke-linecap="round" stroke-dasharray="0.6 1.5"/>
<circle cx="487.60" cy="236.40" r="1.1" fill="#243c6a"/>
<line x1="487.60" y1="255.50" x2="487.60" y2="244.30" stroke="#243c6a" stroke-width="2.0" stroke-linecap="round" stroke-dasharray="0.6 1.5"/>
<circle cx="508.30" cy="206.90" r="1.1" fill="#243c6a"/>
<circle cx="508.30" cy="242.60" r="1.1" fill="#243c6a"/>
<line x1="508.30" y1="255.50" x2="508.30" y2="246.40" stroke="#243c6a" stroke-width="2.0" stroke-linecap="round" stroke-dasharray="0.6 1.5"/>
<line x1="305.70" y1="249.10" x2="313.30" y2="249.10" stroke="#000" stroke-width="1.6"/>
<line x1="326.80" y1="248.50" x2="334.40" y2="248.50" stroke="#000" stroke-width="1.6"/>
<line x1="348.00" y1="251.30" x2="355.60" y2="251.30" stroke="#000" stroke-width="1.6"/>
<line x1="368.80" y1="249.90" x2="376.40" y2="249.90" stroke="#000" stroke-width="1.6"/>
<line x1="389.70" y1="253.40" x2="397.30" y2="253.40" stroke="#000" stroke-width="1.6"/>
<line x1="410.60" y1="251.70" x2="418.20" y2="251.70" stroke="#000" stroke-width="1.6"/>
<line x1="431.40" y1="250.30" x2="439.00" y2="250.30" stroke="#000" stroke-width="1.6"/>
<line x1="452.40" y1="253.80" x2="460.00" y2="253.80" stroke="#000" stroke-width="1.6"/>
<line x1="473.30" y1="254.00" x2="480.90" y2="254.00" stroke="#000" stroke-width="1.6"/>
<line x1="494.10" y1="250.30" x2="501.70" y2="250.30" stroke="#000" stroke-width="1.6"/>
<line x1="316.30" y1="247.00" x2="323.90" y2="247.00" stroke="#000" stroke-width="1.6"/>
<line x1="337.20" y1="241.20" x2="344.80" y2="241.20" stroke="#000" stroke-width="1.6"/>
<line x1="358.40" y1="245.20" x2="366.00" y2="245.20" stroke="#000" stroke-width="1.6"/>
<line x1="378.90" y1="247.80" x2="386.50" y2="247.80" stroke="#000" stroke-width="1.6"/>
<line x1="400.00" y1="249.10" x2="407.60" y2="249.10" stroke="#000" stroke-width="1.6"/>
<line x1="421.00" y1="249.10" x2="428.60" y2="249.10" stroke="#000" stroke-width="1.6"/>
<line x1="441.90" y1="249.90" x2="449.50" y2="249.90" stroke="#000" stroke-width="1.6"/>
<line x1="463.00" y1="251.30" x2="470.60" y2="251.30" stroke="#000" stroke-width="1.6"/>
<line x1="483.80" y1="251.30" x2="491.40" y2="251.30" stroke="#000" stroke-width="1.6"/>
<line x1="504.50" y1="250.30" x2="512.10" y2="250.30" stroke="#000" stroke-width="1.6"/>
<line x1="309.50" y1="254.40" x2="309.50" y2="257.60" stroke="#222" stroke-width="1.3"/>
<line x1="330.60" y1="254.40" x2="330.60" y2="257.60" stroke="#222" stroke-width="1.3"/>
<line x1="351.80" y1="254.40" x2="351.80" y2="257.60" stroke="#222" stroke-width="1.3"/>
<line x1="372.60" y1="254.40" x2="372.60" y2="257.60" stroke="#222" stroke-width="1.3"/>
<line x1="393.50" y1="254.40" x2="393.50" y2="257.60" stroke="#222" stroke-width="1.3"/>
<line x1="414.40" y1="254.40" x2="414.40" y2="257.60" stroke="#222" stroke-width="1.3"/>
<line x1="435.20" y1="254.40" x2="435.20" y2="257.60" stroke="#222" stroke-width="1.3"/>
<line x1="456.20" y1="254.40" x2="456.20" y2="257.60" stroke="#222" stroke-width="1.3"/>
<line x1="477.10" y1="254.40" x2="477.10" y2="257.60" stroke="#222" stroke-width="1.3"/>
<line x1="497.90" y1="254.40" x2="497.90" y2="257.60" stroke="#222" stroke-width="1.3"/>
<line x1="320.10" y1="254.40" x2="320.10" y2="257.60" stroke="#222" stroke-width="1.3"/>
<line x1="341.00" y1="254.40" x2="341.00" y2="257.60" stroke="#222" stroke-width="1.3"/>
<line x1="362.20" y1="254.40" x2="362.20" y2="257.60" stroke="#222" stroke-width="1.3"/>
<line x1="382.70" y1="254.40" x2="382.70" y2="257.60" stroke="#222" stroke-width="1.3"/>
<line x1="403.80" y1="254.40" x2="403.80" y2="257.60" stroke="#222" stroke-width="1.3"/>
<line x1="424.80" y1="254.40" x2="424.80" y2="257.60" stroke="#222" stroke-width="1.3"/>
<line x1="445.70" y1="254.40" x2="445.70" y2="257.60" stroke="#222" stroke-width="1.3"/>
<line x1="466.80" y1="254.40" x2="466.80" y2="257.60" stroke="#222" stroke-width="1.3"/>
<line x1="487.60" y1="254.40" x2="487.60" y2="257.60" stroke="#222" stroke-width="1.3"/>
<line x1="508.30" y1="254.40" x2="508.30" y2="257.60" stroke="#222" stroke-width="1.3"/>
<line x1="330.00" y1="174.90" x2="340.50" y2="174.90" stroke="#000" stroke-width="1.3"/>
<line x1="330.00" y1="172.10" x2="330.00" y2="177.70" stroke="#000" stroke-width="1.6"/>
<line x1="340.50" y1="172.10" x2="340.50" y2="177.70" stroke="#000" stroke-width="1.6"/>
<line x1="349.70" y1="174.90" x2="361.50" y2="174.90" stroke="#000" stroke-width="1.3"/>
<line x1="349.70" y1="172.10" x2="349.70" y2="177.70" stroke="#000" stroke-width="1.6"/>
<line x1="361.50" y1="172.10" x2="361.50" y2="177.70" stroke="#000" stroke-width="1.6"/>
<line x1="371.20" y1="174.90" x2="381.80" y2="174.90" stroke="#000" stroke-width="1.3"/>
<line x1="371.20" y1="172.10" x2="371.20" y2="177.70" stroke="#000" stroke-width="1.6"/>
<line x1="381.80" y1="172.10" x2="381.80" y2="177.70" stroke="#000" stroke-width="1.6"/>
<line x1="412.70" y1="173.80" x2="423.80" y2="173.80" stroke="#000" stroke-width="1.3"/>
<line x1="412.70" y1="171.00" x2="412.70" y2="176.60" stroke="#000" stroke-width="1.6"/>
<line x1="423.80" y1="171.00" x2="423.80" y2="176.60" stroke="#000" stroke-width="1.6"/>
<text x="328.30" y="162.30" font-size="7.2" text-anchor="middle" fill="#2a2a2a" stroke="#2a2a2a" stroke-width="0.22" font-weight="normal" >P</text>
<text x="332.80" y="160.60" font-size="5.5" text-anchor="middle" fill="#2a2a2a" stroke="#2a2a2a" stroke-width="0.22" font-weight="normal" >=</text>
<text x="330.50" y="170.20" font-size="7.6" text-anchor="middle" fill="#2a2a2a" stroke="#2a2a2a" stroke-width="0.22" font-weight="normal" >0.007</text>
<text x="355.50" y="162.30" font-size="7.2" text-anchor="middle" fill="#2a2a2a" stroke="#2a2a2a" stroke-width="0.22" font-weight="normal" >P</text>
<text x="355.50" y="170.20" font-size="7.6" text-anchor="middle" fill="#2a2a2a" stroke="#2a2a2a" stroke-width="0.22" font-weight="normal" >&lt;0.0001</text>
<text x="379.00" y="162.30" font-size="7.2" text-anchor="middle" fill="#2a2a2a" stroke="#2a2a2a" stroke-width="0.22" font-weight="normal" >P</text>
<text x="383.50" y="160.60" font-size="5.5" text-anchor="middle" fill="#2a2a2a" stroke="#2a2a2a" stroke-width="0.22" font-weight="normal" >=</text>
<text x="381.20" y="170.20" font-size="7.6" text-anchor="middle" fill="#2a2a2a" stroke="#2a2a2a" stroke-width="0.22" font-weight="normal" >0.047</text>
<text x="416.40" y="162.30" font-size="7.2" text-anchor="middle" fill="#2a2a2a" stroke="#2a2a2a" stroke-width="0.22" font-weight="normal" >P</text>
<text x="420.90" y="160.60" font-size="5.5" text-anchor="middle" fill="#2a2a2a" stroke="#2a2a2a" stroke-width="0.22" font-weight="normal" >=</text>
<text x="418.60" y="170.20" font-size="7.6" text-anchor="middle" fill="#2a2a2a" stroke="#2a2a2a" stroke-width="0.22" font-weight="normal" >0.018</text>
<circle cx="473.40" cy="168.50" r="1.0" fill="#8e1a3c"/>
<text x="477.30" y="171.20" font-size="7.5" text-anchor="start" fill="#2a2a2a" stroke="#2a2a2a" stroke-width="0.22" font-weight="normal" >Non- septic</text>
<circle cx="473.40" cy="180.00" r="1.0" fill="#243c6a"/>
<text x="477.30" y="182.70" font-size="7.5" text-anchor="start" fill="#2a2a2a" stroke="#2a2a2a" stroke-width="0.22" font-weight="normal" >Septic</text>
<line x1="41.60" y1="313.40" x2="41.60" y2="417.60" stroke="#000" stroke-width="1.6"/>
<line x1="38.10" y1="417.00" x2="41.60" y2="417.00" stroke="#000" stroke-width="1"/>
<text x="36.00" y="420.00" font-size="8.6" text-anchor="end" fill="#2a2a2a" stroke="#2a2a2a" stroke-width="0.22" font-weight="normal" >0</text>
<line x1="38.10" y1="400.17" x2="41.60" y2="400.17" stroke="#000" stroke-width="1"/>
<text x="36.00" y="403.17" font-size="8.6" text-anchor="end" fill="#2a2a2a" stroke="#2a2a2a" stroke-width="0.22" font-weight="normal" >10</text>
<line x1="38.10" y1="383.34" x2="41.60" y2="383.34" stroke="#000" stroke-width="1"/>
<text x="36.00" y="386.34" font-size="8.6" text-anchor="end" fill="#2a2a2a" stroke="#2a2a2a" stroke-width="0.22" font-weight="normal" >20</text>
<line x1="38.10" y1="366.51" x2="41.60" y2="366.51" stroke="#000" stroke-width="1"/>
<text x="36.00" y="369.51" font-size="8.6" text-anchor="end" fill="#2a2a2a" stroke="#2a2a2a" stroke-width="0.22" font-weight="normal" >30</text>
<line x1="38.10" y1="349.68" x2="41.60" y2="349.68" stroke="#000" stroke-width="1"/>
<text x="36.00" y="352.68" font-size="8.6" text-anchor="end" fill="#2a2a2a" stroke="#2a2a2a" stroke-width="0.22" font-weight="normal" >40</text>
<line x1="38.10" y1="332.85" x2="41.60" y2="332.85" stroke="#000" stroke-width="1"/>
<text x="36.00" y="335.85" font-size="8.6" text-anchor="end" fill="#2a2a2a" stroke="#2a2a2a" stroke-width="0.22" font-weight="normal" >50</text>
<line x1="38.10" y1="316.02" x2="41.60" y2="316.02" stroke="#000" stroke-width="1"/>
<text x="36.00" y="319.02" font-size="8.6" text-anchor="end" fill="#2a2a2a" stroke="#2a2a2a" stroke-width="0.22" font-weight="normal" >60</text>
<polygon points="48.9,413.6 53.2,413.6 53.2,417 51.05,420.3 48.9,417" fill="#7fa265"/>
<line x1="41.00" y1="416.90" x2="228.75" y2="416.90" stroke="#000" stroke-width="1.6"/>
<text x="51.00" y="430.50" font-size="8" text-anchor="middle" fill="#2a2a2a" stroke="#2a2a2a" stroke-width="0.22" font-weight="normal" >HC</text>
<text x="68.20" y="430.50" font-size="8" text-anchor="middle" fill="#2a2a2a" stroke="#2a2a2a" stroke-width="0.22" font-weight="normal" >1</text>
<text x="85.70" y="430.50" font-size="8" text-anchor="middle" fill="#2a2a2a" stroke="#2a2a2a" stroke-width="0.22" font-weight="normal" >3</text>
<text x="103.00" y="430.50" font-size="8" text-anchor="middle" fill="#2a2a2a" stroke="#2a2a2a" stroke-width="0.22" font-weight="normal" >7</text>
<text x="120.10" y="430.50" font-size="8" text-anchor="middle" fill="#2a2a2a" stroke="#2a2a2a" stroke-width="0.22" font-weight="normal" >14</text>
<text x="137.10" y="430.50" font-size="8" text-anchor="middle" fill="#2a2a2a" stroke="#2a2a2a" stroke-width="0.22" font-weight="normal" >21</text>
<text x="154.30" y="430.50" font-size="8" text-anchor="middle" fill="#2a2a2a" stroke="#2a2a2a" stroke-width="0.22" font-weight="normal" >28</text>
<text x="171.30" y="430.50" font-size="8" text-anchor="middle" fill="#2a2a2a" stroke="#2a2a2a" stroke-width="0.22" font-weight="normal" >M2</text>
<text x="188.70" y="430.50" font-size="8" text-anchor="middle" fill="#2a2a2a" stroke="#2a2a2a" stroke-width="0.22" font-weight="normal" >M3</text>
<text x="205.60" y="430.50" font-size="8" text-anchor="middle" fill="#2a2a2a" stroke="#2a2a2a" stroke-width="0.22" font-weight="normal" >M6</text>
<text x="223.00" y="430.50" font-size="8" text-anchor="middle" fill="#2a2a2a" stroke="#2a2a2a" stroke-width="0.22" font-weight="normal" >M12</text>
<line x1="67.10" y1="435.30" x2="156.30" y2="435.30" stroke="#000" stroke-width="1.5"/>
<line x1="169.50" y1="435.30" x2="226.30" y2="435.30" stroke="#000" stroke-width="1.5"/>
<text x="115.00" y="447.00" font-size="8" text-anchor="middle" fill="#2a2a2a" stroke="#2a2a2a" stroke-width="0.22" font-weight="normal" >day</text>
<text x="197.50" y="447.00" font-size="8" text-anchor="middle" fill="#2a2a2a" stroke="#2a2a2a" stroke-width="0.22" font-weight="normal" >month</text>
<text transform="translate(20.70,353.40) rotate(-90)" x="-28.75" y="0" font-size="8.5" text-anchor="start" textLength="57.5" lengthAdjust="spacingAndGlyphs" fill="#2a2a2a" font-weight="bold">D-dimer mg/L FEU</text>
<text x="208.80" y="320.30" font-size="7.6" text-anchor="middle" fill="#2a2a2a" stroke="#2a2a2a" stroke-width="0.22" font-weight="normal" >&gt;15%TBSA</text>
<line x1="61.20" y1="413.30" x2="75.20" y2="413.30" stroke="#000" stroke-width="1.4"/>
<line x1="78.70" y1="415.20" x2="92.70" y2="415.20" stroke="#000" stroke-width="1.4"/>
<line x1="96.00" y1="414.00" x2="110.00" y2="414.00" stroke="#000" stroke-width="1.4"/>
<line x1="113.10" y1="410.20" x2="127.10" y2="410.20" stroke="#000" stroke-width="1.4"/>
<line x1="130.10" y1="412.50" x2="144.10" y2="412.50" stroke="#000" stroke-width="1.4"/>
<line x1="147.30" y1="413.25" x2="161.30" y2="413.25" stroke="#000" stroke-width="1.4"/>
<line x1="164.30" y1="415.00" x2="178.30" y2="415.00" stroke="#000" stroke-width="1.4"/>
<line x1="181.70" y1="416.50" x2="195.70" y2="416.50" stroke="#000" stroke-width="1.4"/>
<line x1="198.60" y1="416.80" x2="212.60" y2="416.80" stroke="#000" stroke-width="1.4"/>
<line x1="216.00" y1="416.90" x2="230.00" y2="416.90" stroke="#000" stroke-width="1.4"/>
<circle cx="68.20" cy="316.10" r="1.85" fill="#7e1032"/>
<circle cx="68.20" cy="370.40" r="1.85" fill="#7e1032"/>
<rect x="66.89" y="394.25" width="2.62" height="23.50" fill="#961a42"/>
<circle cx="68.20" cy="417.75" r="1.75" fill="#961a42"/>
<circle cx="68.20" cy="415.35" r="1.75" fill="#961a42"/>
<circle cx="68.20" cy="412.95" r="1.75" fill="#961a42"/>
<circle cx="68.20" cy="410.55" r="1.75" fill="#961a42"/>
<circle cx="68.20" cy="408.15" r="1.75" fill="#961a42"/>
<circle cx="68.20" cy="405.75" r="1.75" fill="#961a42"/>
<circle cx="68.20" cy="403.35" r="1.75" fill="#961a42"/>
<circle cx="68.20" cy="400.95" r="1.75" fill="#961a42"/>
<circle cx="68.20" cy="398.55" r="1.75" fill="#961a42"/>
<circle cx="68.20" cy="396.15" r="1.75" fill="#961a42"/>
<circle cx="85.70" cy="401.00" r="1.85" fill="#7e1032"/>
<rect x="84.39" y="404.75" width="2.62" height="13.00" fill="#961a42"/>
<circle cx="85.70" cy="417.75" r="1.75" fill="#961a42"/>
<circle cx="85.70" cy="415.35" r="1.75" fill="#961a42"/>
<circle cx="85.70" cy="412.95" r="1.75" fill="#961a42"/>
<circle cx="85.70" cy="410.55" r="1.75" fill="#961a42"/>
<circle cx="85.70" cy="408.15" r="1.75" fill="#961a42"/>
<circle cx="85.70" cy="405.75" r="1.75" fill="#961a42"/>
<circle cx="103.00" cy="378.00" r="1.85" fill="#7e1032"/>
<circle cx="103.00" cy="398.10" r="1.85" fill="#7e1032"/>
<rect x="101.69" y="402.85" width="2.62" height="14.90" fill="#961a42"/>
<circle cx="103.00" cy="417.75" r="1.75" fill="#961a42"/>
<circle cx="103.00" cy="415.35" r="1.75" fill="#961a42"/>
<circle cx="103.00" cy="412.95" r="1.75" fill="#961a42"/>
<circle cx="103.00" cy="410.55" r="1.75" fill="#961a42"/>
<circle cx="103.00" cy="408.15" r="1.75" fill="#961a42"/>
<circle cx="103.00" cy="405.75" r="1.75" fill="#961a42"/>
<circle cx="103.00" cy="403.35" r="1.75" fill="#961a42"/>
<circle cx="120.10" cy="375.70" r="1.85" fill="#7e1032"/>
<circle cx="120.10" cy="384.80" r="1.85" fill="#7e1032"/>
<circle cx="120.10" cy="386.90" r="1.85" fill="#7e1032"/>
<circle cx="120.10" cy="394.30" r="1.85" fill="#7e1032"/>
<circle cx="120.10" cy="398.50" r="1.85" fill="#7e1032"/>
<rect x="118.79" y="403.85" width="2.62" height="13.90" fill="#961a42"/>
<circle cx="120.10" cy="417.75" r="1.75" fill="#961a42"/>
<circle cx="120.10" cy="415.35" r="1.75" fill="#961a42"/>
<circle cx="120.10" cy="412.95" r="1.75" fill="#961a42"/>
<circle cx="120.10" cy="410.55" r="1.75" fill="#961a42"/>
<circle cx="120.10" cy="408.15" r="1.75" fill="#961a42"/>
<circle cx="120.10" cy="405.75" r="1.75" fill="#961a42"/>
<circle cx="137.10" cy="388.75" r="1.85" fill="#7e1032"/>
<circle cx="137.10" cy="396.25" r="1.85" fill="#7e1032"/>
<circle cx="137.10" cy="401.25" r="1.85" fill="#7e1032"/>
<rect x="135.79" y="403.80" width="2.62" height="13.95" fill="#961a42"/>
<circle cx="137.10" cy="417.75" r="1.75" fill="#961a42"/>
<circle cx="137.10" cy="415.35" r="1.75" fill="#961a42"/>
<circle cx="137.10" cy="412.95" r="1.75" fill="#961a42"/>
<circle cx="137.10" cy="410.55" r="1.75" fill="#961a42"/>
<circle cx="137.10" cy="408.15" r="1.75" fill="#961a42"/>
<circle cx="137.10" cy="405.75" r="1.75" fill="#961a42"/>
<circle cx="154.30" cy="378.75" r="1.85" fill="#7e1032"/>
<circle cx="154.30" cy="396.25" r="1.85" fill="#7e1032"/>
<rect x="152.99" y="398.80" width="2.62" height="18.95" fill="#961a42"/>
<circle cx="154.30" cy="417.75" r="1.75" fill="#961a42"/>
<circle cx="154.30" cy="415.35" r="1.75" fill="#961a42"/>
<circle cx="154.30" cy="412.95" r="1.75" fill="#961a42"/>
<circle cx="154.30" cy="410.55" r="1.75" fill="#961a42"/>
<circle cx="154.30" cy="408.15" r="1.75" fill="#961a42"/>
<circle cx="154.30" cy="405.75" r="1.75" fill="#961a42"/>
<circle cx="154.30" cy="403.35" r="1.75" fill="#961a42"/>
<circle cx="154.30" cy="400.95" r="1.75" fill="#961a42"/>
<circle cx="171.30" cy="393.75" r="1.85" fill="#7e1032"/>
<circle cx="171.30" cy="407.50" r="1.85" fill="#7e1032"/>
<rect x="169.99" y="410.05" width="2.62" height="7.70" fill="#961a42"/>
<circle cx="171.30" cy="417.75" r="1.75" fill="#961a42"/>
<circle cx="171.30" cy="415.35" r="1.75" fill="#961a42"/>
<circle cx="171.30" cy="412.95" r="1.75" fill="#961a42"/>
<circle cx="171.30" cy="410.55" r="1.75" fill="#961a42"/>
<circle cx="188.70" cy="408.75" r="1.85" fill="#7e1032"/>
<rect x="187.39" y="411.30" width="2.62" height="6.45" fill="#961a42"/>
<circle cx="188.70" cy="417.75" r="1.75" fill="#961a42"/>
<circle cx="188.70" cy="415.35" r="1.75" fill="#961a42"/>
<circle cx="188.70" cy="412.95" r="1.75" fill="#961a42"/>
<rect x="204.29" y="414.55" width="2.62" height="3.20" fill="#961a42"/>
<circle cx="205.60" cy="417.75" r="1.75" fill="#961a42"/>
<circle cx="205.60" cy="415.35" r="1.75" fill="#961a42"/>
<rect x="221.69" y="415.55" width="2.62" height="2.20" fill="#961a42"/>
<circle cx="223.00" cy="417.75" r="1.75" fill="#961a42"/>
<line x1="51.00" y1="416.90" x2="51.00" y2="420.50" stroke="#222" stroke-width="1.3"/>
<line x1="68.20" y1="416.90" x2="68.20" y2="420.50" stroke="#222" stroke-width="1.3"/>
<line x1="85.70" y1="416.90" x2="85.70" y2="420.50" stroke="#222" stroke-width="1.3"/>
<line x1="103.00" y1="416.90" x2="103.00" y2="420.50" stroke="#222" stroke-width="1.3"/>
<line x1="120.10" y1="416.90" x2="120.10" y2="420.50" stroke="#222" stroke-width="1.3"/>
<line x1="137.10" y1="416.90" x2="137.10" y2="420.50" stroke="#222" stroke-width="1.3"/>
<line x1="154.30" y1="416.90" x2="154.30" y2="420.50" stroke="#222" stroke-width="1.3"/>
<line x1="171.30" y1="416.90" x2="171.30" y2="420.50" stroke="#222" stroke-width="1.3"/>
<line x1="188.70" y1="416.90" x2="188.70" y2="420.50" stroke="#222" stroke-width="1.3"/>
<line x1="205.60" y1="416.90" x2="205.60" y2="420.50" stroke="#222" stroke-width="1.3"/>
<line x1="223.00" y1="416.90" x2="223.00" y2="420.50" stroke="#222" stroke-width="1.3"/>
<defs><clipPath id="clipR"><path d="M313.20,336.77 L314.36,341.95 L315.52,347.00 L316.69,351.77 L317.85,356.14 L319.01,359.96 L320.17,363.16 L321.33,365.81 L322.50,367.97 L323.66,369.70 L324.82,371.05 L325.98,371.99 L327.14,372.49 L328.31,372.51 L329.47,372.07 L330.63,371.26 L331.79,370.15 L332.95,368.82 L334.12,367.35 L335.28,365.78 L336.44,364.18 L337.60,362.58 L338.76,361.02 L339.93,359.54 L341.09,358.17 L342.25,356.90 L343.41,355.75 L344.57,354.72 L345.74,353.79 L346.90,352.99 L348.06,352.30 L349.22,351.73 L350.38,351.28 L351.55,350.94 L352.71,350.72 L353.87,350.62 L355.03,350.64 L356.19,350.77 L357.36,351.01 L358.52,351.34 L359.68,351.76 L360.84,352.25 L362.00,352.81 L363.17,353.42 L364.33,354.07 L365.49,354.76 L366.65,355.48 L367.81,356.22 L368.98,356.99 L370.14,357.78 L371.30,358.58 L372.46,359.40 L373.62,360.24 L374.79,361.08 L375.95,361.93 L377.11,362.78 L378.27,363.62 L379.43,364.46 L380.60,365.29 L381.76,366.11 L382.92,366.91 L384.08,367.69 L385.24,368.44 L386.41,369.17 L387.57,369.86 L388.73,370.51 L389.89,371.12 L391.05,371.69 L392.22,372.23 L393.38,372.72 L394.54,373.19 L395.70,373.62 L396.86,374.02 L398.03,374.38 L399.19,374.73 L400.35,375.04 L401.51,375.33 L402.67,375.60 L403.84,375.85 L405.00,376.07 L406.16,376.28 L407.32,376.47 L408.48,376.65 L409.65,376.82 L410.81,376.97 L411.97,377.12 L413.13,377.26 L414.29,377.39 L415.46,377.51 L416.62,377.64 L417.78,377.76 L418.94,377.88 L420.10,378.01 L421.27,378.14 L422.43,378.27 L423.59,378.41 L424.75,378.54 L425.91,378.68 L427.08,378.82 L428.24,378.96 L429.40,379.10 L430.56,379.24 L431.72,379.38 L432.89,379.52 L434.05,379.66 L435.21,379.79 L436.37,379.92 L437.53,380.05 L438.70,380.18 L439.86,380.30 L441.02,380.42 L442.18,380.53 L443.34,380.64 L444.51,380.74 L445.67,380.84 L446.83,380.94 L447.99,381.03 L449.15,381.12 L450.32,381.20 L451.48,381.28 L452.64,381.36 L453.80,381.43 L454.96,381.50 L456.13,381.57 L457.29,381.63 L458.45,381.69 L459.61,381.75 L460.77,381.80 L461.94,381.86 L463.10,381.90 L464.26,381.95 L465.42,382.00 L466.58,382.04 L467.75,382.08 L468.91,382.12 L470.07,382.15 L471.23,382.19 L472.39,382.22 L473.56,382.25 L474.72,382.28 L475.88,382.31 L477.04,382.34 L478.20,382.37 L479.37,382.39 L480.53,382.42 L481.69,382.44 L482.85,382.47 L484.01,382.49 L485.18,382.51 L486.34,382.53 L487.50,382.56L487.50,408.83 L486.34,408.91 L485.18,409.00 L484.01,409.09 L482.85,409.18 L481.69,409.26 L480.53,409.35 L479.37,409.44 L478.20,409.52 L477.04,409.61 L475.88,409.69 L474.72,409.78 L473.56,409.86 L472.39,409.95 L471.23,410.03 L470.07,410.11 L468.91,410.19 L467.75,410.27 L466.58,410.35 L465.42,410.43 L464.26,410.50 L463.10,410.58 L461.94,410.65 L460.77,410.72 L459.61,410.80 L458.45,410.87 L457.29,410.93 L456.13,411.00 L454.96,411.07 L453.80,411.13 L452.64,411.19 L451.48,411.25 L450.32,411.31 L449.15,411.37 L447.99,411.42 L446.83,411.48 L445.67,411.53 L444.51,411.58 L443.34,411.62 L442.18,411.67 L441.02,411.71 L439.86,411.75 L438.70,411.78 L437.53,411.82 L436.37,411.84 L435.21,411.86 L434.05,411.87 L432.89,411.87 L431.72,411.86 L430.56,411.84 L429.40,411.81 L428.24,411.76 L427.08,411.70 L425.91,411.62 L424.75,411.52 L423.59,411.40 L422.43,411.26 L421.27,411.11 L420.10,410.92 L418.94,410.72 L417.78,410.49 L416.62,410.24 L415.46,409.96 L414.29,409.67 L413.13,409.36 L411.97,409.02 L410.81,408.67 L409.65,408.30 L408.48,407.92 L407.32,407.52 L406.16,407.10 L405.00,406.68 L403.84,406.24 L402.67,405.78 L401.51,405.32 L400.35,404.85 L399.19,404.37 L398.03,403.87 L396.86,403.36 L395.70,402.82 L394.54,402.26 L393.38,401.66 L392.22,401.03 L391.05,400.35 L389.89,399.63 L388.73,398.86 L387.57,398.03 L386.41,397.14 L385.24,396.18 L384.08,395.16 L382.92,394.08 L381.76,392.95 L380.60,391.81 L379.43,390.65 L378.27,389.50 L377.11,388.39 L375.95,387.31 L374.79,386.29 L373.62,385.35 L372.46,384.49 L371.30,383.70 L370.14,382.97 L368.98,382.29 L367.81,381.67 L366.65,381.09 L365.49,380.54 L364.33,380.02 L363.17,379.53 L362.00,379.08 L360.84,378.67 L359.68,378.32 L358.52,378.04 L357.36,377.84 L356.19,377.73 L355.03,377.72 L353.87,377.82 L352.71,378.03 L351.55,378.35 L350.38,378.75 L349.22,379.24 L348.06,379.82 L346.90,380.46 L345.74,381.18 L344.57,381.95 L343.41,382.77 L342.25,383.64 L341.09,384.56 L339.93,385.53 L338.76,386.57 L337.60,387.67 L336.44,388.83 L335.28,390.07 L334.12,391.38 L332.95,392.70 L331.79,393.95 L330.63,395.05 L329.47,395.92 L328.31,396.47 L327.14,396.62 L325.98,396.28 L324.82,395.43 L323.66,394.15 L322.50,392.51 L321.33,390.60 L320.17,388.52 L319.01,386.34 L317.85,384.09 L316.69,381.79 L315.52,379.46 L314.36,377.10 L313.20,374.72Z"/></clipPath></defs>
<path d="M313.20,357.49 L314.36,358.77 L315.52,360.02 L316.69,361.19 L317.85,362.25 L319.01,363.16 L320.17,363.89 L321.33,364.39 L322.50,364.64 L323.66,364.60 L324.82,364.22 L325.98,363.48 L327.14,362.33 L328.31,360.74 L329.47,358.68 L330.63,356.24 L331.79,353.53 L332.95,350.69 L334.12,347.86 L335.28,345.15 L336.44,342.65 L337.60,340.36 L338.76,338.27 L339.93,336.37 L341.09,334.64 L342.25,333.08 L343.41,331.67 L344.57,330.41 L345.74,329.28 L346.90,328.29 L348.06,327.43 L349.22,326.71 L350.38,326.11 L351.55,325.65 L352.71,325.32 L353.87,325.11 L355.03,325.03 L356.19,325.05 L357.36,325.17 L358.52,325.39 L359.68,325.69 L360.84,326.07 L362.00,326.52 L363.17,327.03 L364.33,327.58 L365.49,328.18 L366.65,328.82 L367.81,329.49 L368.98,330.18 L370.14,330.91 L371.30,331.65 L372.46,332.40 L373.62,333.17 L374.79,333.95 L375.95,334.73 L377.11,335.51 L378.27,336.29 L379.43,337.07 L380.60,337.84 L381.76,338.59 L382.92,339.34 L384.08,340.07 L385.24,340.79 L386.41,341.48 L387.57,342.15 L388.73,342.79 L389.89,343.41 L391.05,344.00 L392.22,344.56 L393.38,345.10 L394.54,345.61 L395.70,346.10 L396.86,346.57 L398.03,347.01 L399.19,347.44 L400.35,347.85 L401.51,348.25 L402.67,348.62 L403.84,348.98 L405.00,349.33 L406.16,349.66 L407.32,349.99 L408.48,350.30 L409.65,350.60 L410.81,350.90 L411.97,351.19 L413.13,351.47 L414.29,351.75 L415.46,352.02 L416.62,352.29 L417.78,352.56 L418.94,352.83 L420.10,353.10 L421.27,353.37 L422.43,353.65 L423.59,353.92 L424.75,354.20 L425.91,354.47 L427.08,354.74 L428.24,355.02 L429.40,355.29 L430.56,355.55 L431.72,355.82 L432.89,356.08 L434.05,356.34 L435.21,356.59 L436.37,356.84 L437.53,357.09 L438.70,357.33 L439.86,357.56 L441.02,357.79 L442.18,358.01 L443.34,358.23 L444.51,358.43 L445.67,358.63 L446.83,358.83 L447.99,359.02 L449.15,359.20 L450.32,359.38 L451.48,359.55 L452.64,359.72 L453.80,359.88 L454.96,360.04 L456.13,360.19 L457.29,360.34 L458.45,360.49 L459.61,360.63 L460.77,360.76 L461.94,360.89 L463.10,361.02 L464.26,361.15 L465.42,361.27 L466.58,361.39 L467.75,361.50 L468.91,361.61 L470.07,361.72 L471.23,361.83 L472.39,361.94 L473.56,362.04 L474.72,362.14 L475.88,362.24 L477.04,362.33 L478.20,362.43 L479.37,362.52 L480.53,362.62 L481.69,362.71 L482.85,362.80 L484.01,362.89 L485.18,362.98 L486.34,363.07 L487.50,363.16L487.50,384.97 L486.34,384.91 L485.18,384.86 L484.01,384.80 L482.85,384.74 L481.69,384.69 L480.53,384.63 L479.37,384.57 L478.20,384.50 L477.04,384.44 L475.88,384.37 L474.72,384.31 L473.56,384.23 L472.39,384.16 L471.23,384.08 L470.07,384.00 L468.91,383.92 L467.75,383.83 L466.58,383.74 L465.42,383.64 L464.26,383.54 L463.10,383.44 L461.94,383.33 L460.77,383.21 L459.61,383.09 L458.45,382.96 L457.29,382.83 L456.13,382.69 L454.96,382.54 L453.80,382.39 L452.64,382.23 L451.48,382.07 L450.32,381.89 L449.15,381.71 L447.99,381.52 L446.83,381.33 L445.67,381.12 L444.51,380.91 L443.34,380.68 L442.18,380.45 L441.02,380.21 L439.86,379.96 L438.70,379.70 L437.53,379.43 L436.37,379.15 L435.21,378.87 L434.05,378.58 L432.89,378.28 L431.72,377.98 L430.56,377.68 L429.40,377.36 L428.24,377.05 L427.08,376.73 L425.91,376.41 L424.75,376.09 L423.59,375.77 L422.43,375.45 L421.27,375.13 L420.10,374.81 L418.94,374.49 L417.78,374.17 L416.62,373.85 L415.46,373.53 L414.29,373.21 L413.13,372.89 L411.97,372.56 L410.81,372.24 L409.65,371.91 L408.48,371.57 L407.32,371.23 L406.16,370.88 L405.00,370.53 L403.84,370.17 L402.67,369.80 L401.51,369.42 L400.35,369.03 L399.19,368.64 L398.03,368.23 L396.86,367.81 L395.70,367.37 L394.54,366.93 L393.38,366.47 L392.22,366.00 L391.05,365.51 L389.89,365.00 L388.73,364.48 L387.57,363.94 L386.41,363.39 L385.24,362.82 L384.08,362.22 L382.92,361.62 L381.76,360.99 L380.60,360.34 L379.43,359.68 L378.27,359.00 L377.11,358.30 L375.95,357.58 L374.79,356.84 L373.62,356.08 L372.46,355.31 L371.30,354.54 L370.14,353.78 L368.98,353.04 L367.81,352.33 L366.65,351.66 L365.49,351.05 L364.33,350.49 L363.17,350.01 L362.00,349.61 L360.84,349.29 L359.68,349.07 L358.52,348.96 L357.36,348.96 L356.19,349.08 L355.03,349.34 L353.87,349.73 L352.71,350.25 L351.55,350.89 L350.38,351.64 L349.22,352.49 L348.06,353.42 L346.90,354.43 L345.74,355.49 L344.57,356.61 L343.41,357.77 L342.25,358.98 L341.09,360.23 L339.93,361.52 L338.76,362.86 L337.60,364.24 L336.44,365.66 L335.28,367.12 L334.12,368.63 L332.95,370.16 L331.79,371.72 L330.63,373.29 L329.47,374.85 L328.31,376.39 L327.14,377.90 L325.98,379.36 L324.82,380.77 L323.66,382.12 L322.50,383.38 L321.33,384.54 L320.17,385.60 L319.01,386.56 L317.85,387.43 L316.69,388.23 L315.52,388.98 L314.36,389.69 L313.20,390.39Z" fill="#a2aec9"/>
<path d="M313.20,336.77 L314.36,341.95 L315.52,347.00 L316.69,351.77 L317.85,356.14 L319.01,359.96 L320.17,363.16 L321.33,365.81 L322.50,367.97 L323.66,369.70 L324.82,371.05 L325.98,371.99 L327.14,372.49 L328.31,372.51 L329.47,372.07 L330.63,371.26 L331.79,370.15 L332.95,368.82 L334.12,367.35 L335.28,365.78 L336.44,364.18 L337.60,362.58 L338.76,361.02 L339.93,359.54 L341.09,358.17 L342.25,356.90 L343.41,355.75 L344.57,354.72 L345.74,353.79 L346.90,352.99 L348.06,352.30 L349.22,351.73 L350.38,351.28 L351.55,350.94 L352.71,350.72 L353.87,350.62 L355.03,350.64 L356.19,350.77 L357.36,351.01 L358.52,351.34 L359.68,351.76 L360.84,352.25 L362.00,352.81 L363.17,353.42 L364.33,354.07 L365.49,354.76 L366.65,355.48 L367.81,356.22 L368.98,356.99 L370.14,357.78 L371.30,358.58 L372.46,359.40 L373.62,360.24 L374.79,361.08 L375.95,361.93 L377.11,362.78 L378.27,363.62 L379.43,364.46 L380.60,365.29 L381.76,366.11 L382.92,366.91 L384.08,367.69 L385.24,368.44 L386.41,369.17 L387.57,369.86 L388.73,370.51 L389.89,371.12 L391.05,371.69 L392.22,372.23 L393.38,372.72 L394.54,373.19 L395.70,373.62 L396.86,374.02 L398.03,374.38 L399.19,374.73 L400.35,375.04 L401.51,375.33 L402.67,375.60 L403.84,375.85 L405.00,376.07 L406.16,376.28 L407.32,376.47 L408.48,376.65 L409.65,376.82 L410.81,376.97 L411.97,377.12 L413.13,377.26 L414.29,377.39 L415.46,377.51 L416.62,377.64 L417.78,377.76 L418.94,377.88 L420.10,378.01 L421.27,378.14 L422.43,378.27 L423.59,378.41 L424.75,378.54 L425.91,378.68 L427.08,378.82 L428.24,378.96 L429.40,379.10 L430.56,379.24 L431.72,379.38 L432.89,379.52 L434.05,379.66 L435.21,379.79 L436.37,379.92 L437.53,380.05 L438.70,380.18 L439.86,380.30 L441.02,380.42 L442.18,380.53 L443.34,380.64 L444.51,380.74 L445.67,380.84 L446.83,380.94 L447.99,381.03 L449.15,381.12 L450.32,381.20 L451.48,381.28 L452.64,381.36 L453.80,381.43 L454.96,381.50 L456.13,381.57 L457.29,381.63 L458.45,381.69 L459.61,381.75 L460.77,381.80 L461.94,381.86 L463.10,381.90 L464.26,381.95 L465.42,382.00 L466.58,382.04 L467.75,382.08 L468.91,382.12 L470.07,382.15 L471.23,382.19 L472.39,382.22 L473.56,382.25 L474.72,382.28 L475.88,382.31 L477.04,382.34 L478.20,382.37 L479.37,382.39 L480.53,382.42 L481.69,382.44 L482.85,382.47 L484.01,382.49 L485.18,382.51 L486.34,382.53 L487.50,382.56L487.50,408.83 L486.34,408.91 L485.18,409.00 L484.01,409.09 L482.85,409.18 L481.69,409.26 L480.53,409.35 L479.37,409.44 L478.20,409.52 L477.04,409.61 L475.88,409.69 L474.72,409.78 L473.56,409.86 L472.39,409.95 L471.23,410.03 L470.07,410.11 L468.91,410.19 L467.75,410.27 L466.58,410.35 L465.42,410.43 L464.26,410.50 L463.10,410.58 L461.94,410.65 L460.77,410.72 L459.61,410.80 L458.45,410.87 L457.29,410.93 L456.13,411.00 L454.96,411.07 L453.80,411.13 L452.64,411.19 L451.48,411.25 L450.32,411.31 L449.15,411.37 L447.99,411.42 L446.83,411.48 L445.67,411.53 L444.51,411.58 L443.34,411.62 L442.18,411.67 L441.02,411.71 L439.86,411.75 L438.70,411.78 L437.53,411.82 L436.37,411.84 L435.21,411.86 L434.05,411.87 L432.89,411.87 L431.72,411.86 L430.56,411.84 L429.40,411.81 L428.24,411.76 L427.08,411.70 L425.91,411.62 L424.75,411.52 L423.59,411.40 L422.43,411.26 L421.27,411.11 L420.10,410.92 L418.94,410.72 L417.78,410.49 L416.62,410.24 L415.46,409.96 L414.29,409.67 L413.13,409.36 L411.97,409.02 L410.81,408.67 L409.65,408.30 L408.48,407.92 L407.32,407.52 L406.16,407.10 L405.00,406.68 L403.84,406.24 L402.67,405.78 L401.51,405.32 L400.35,404.85 L399.19,404.37 L398.03,403.87 L396.86,403.36 L395.70,402.82 L394.54,402.26 L393.38,401.66 L392.22,401.03 L391.05,400.35 L389.89,399.63 L388.73,398.86 L387.57,398.03 L386.41,397.14 L385.24,396.18 L384.08,395.16 L382.92,394.08 L381.76,392.95 L380.60,391.81 L379.43,390.65 L378.27,389.50 L377.11,388.39 L375.95,387.31 L374.79,386.29 L373.62,385.35 L372.46,384.49 L371.30,383.70 L370.14,382.97 L368.98,382.29 L367.81,381.67 L366.65,381.09 L365.49,380.54 L364.33,380.02 L363.17,379.53 L362.00,379.08 L360.84,378.67 L359.68,378.32 L358.52,378.04 L357.36,377.84 L356.19,377.73 L355.03,377.72 L353.87,377.82 L352.71,378.03 L351.55,378.35 L350.38,378.75 L349.22,379.24 L348.06,379.82 L346.90,380.46 L345.74,381.18 L344.57,381.95 L343.41,382.77 L342.25,383.64 L341.09,384.56 L339.93,385.53 L338.76,386.57 L337.60,387.67 L336.44,388.83 L335.28,390.07 L334.12,391.38 L332.95,392.70 L331.79,393.95 L330.63,395.05 L329.47,395.92 L328.31,396.47 L327.14,396.62 L325.98,396.28 L324.82,395.43 L323.66,394.15 L322.50,392.51 L321.33,390.60 L320.17,388.52 L319.01,386.34 L317.85,384.09 L316.69,381.79 L315.52,379.46 L314.36,377.10 L313.20,374.72Z" fill="#d9809a"/>
<path d="M313.20,357.49 L314.36,358.77 L315.52,360.02 L316.69,361.19 L317.85,362.25 L319.01,363.16 L320.17,363.89 L321.33,364.39 L322.50,364.64 L323.66,364.60 L324.82,364.22 L325.98,363.48 L327.14,362.33 L328.31,360.74 L329.47,358.68 L330.63,356.24 L331.79,353.53 L332.95,350.69 L334.12,347.86 L335.28,345.15 L336.44,342.65 L337.60,340.36 L338.76,338.27 L339.93,336.37 L341.09,334.64 L342.25,333.08 L343.41,331.67 L344.57,330.41 L345.74,329.28 L346.90,328.29 L348.06,327.43 L349.22,326.71 L350.38,326.11 L351.55,325.65 L352.71,325.32 L353.87,325.11 L355.03,325.03 L356.19,325.05 L357.36,325.17 L358.52,325.39 L359.68,325.69 L360.84,326.07 L362.00,326.52 L363.17,327.03 L364.33,327.58 L365.49,328.18 L366.65,328.82 L367.81,329.49 L368.98,330.18 L370.14,330.91 L371.30,331.65 L372.46,332.40 L373.62,333.17 L374.79,333.95 L375.95,334.73 L377.11,335.51 L378.27,336.29 L379.43,337.07 L380.60,337.84 L381.76,338.59 L382.92,339.34 L384.08,340.07 L385.24,340.79 L386.41,341.48 L387.57,342.15 L388.73,342.79 L389.89,343.41 L391.05,344.00 L392.22,344.56 L393.38,345.10 L394.54,345.61 L395.70,346.10 L396.86,346.57 L398.03,347.01 L399.19,347.44 L400.35,347.85 L401.51,348.25 L402.67,348.62 L403.84,348.98 L405.00,349.33 L406.16,349.66 L407.32,349.99 L408.48,350.30 L409.65,350.60 L410.81,350.90 L411.97,351.19 L413.13,351.47 L414.29,351.75 L415.46,352.02 L416.62,352.29 L417.78,352.56 L418.94,352.83 L420.10,353.10 L421.27,353.37 L422.43,353.65 L423.59,353.92 L424.75,354.20 L425.91,354.47 L427.08,354.74 L428.24,355.02 L429.40,355.29 L430.56,355.55 L431.72,355.82 L432.89,356.08 L434.05,356.34 L435.21,356.59 L436.37,356.84 L437.53,357.09 L438.70,357.33 L439.86,357.56 L441.02,357.79 L442.18,358.01 L443.34,358.23 L444.51,358.43 L445.67,358.63 L446.83,358.83 L447.99,359.02 L449.15,359.20 L450.32,359.38 L451.48,359.55 L452.64,359.72 L453.80,359.88 L454.96,360.04 L456.13,360.19 L457.29,360.34 L458.45,360.49 L459.61,360.63 L460.77,360.76 L461.94,360.89 L463.10,361.02 L464.26,361.15 L465.42,361.27 L466.58,361.39 L467.75,361.50 L468.91,361.61 L470.07,361.72 L471.23,361.83 L472.39,361.94 L473.56,362.04 L474.72,362.14 L475.88,362.24 L477.04,362.33 L478.20,362.43 L479.37,362.52 L480.53,362.62 L481.69,362.71 L482.85,362.80 L484.01,362.89 L485.18,362.98 L486.34,363.07 L487.50,363.16L487.50,384.97 L486.34,384.91 L485.18,384.86 L484.01,384.80 L482.85,384.74 L481.69,384.69 L480.53,384.63 L479.37,384.57 L478.20,384.50 L477.04,384.44 L475.88,384.37 L474.72,384.31 L473.56,384.23 L472.39,384.16 L471.23,384.08 L470.07,384.00 L468.91,383.92 L467.75,383.83 L466.58,383.74 L465.42,383.64 L464.26,383.54 L463.10,383.44 L461.94,383.33 L460.77,383.21 L459.61,383.09 L458.45,382.96 L457.29,382.83 L456.13,382.69 L454.96,382.54 L453.80,382.39 L452.64,382.23 L451.48,382.07 L450.32,381.89 L449.15,381.71 L447.99,381.52 L446.83,381.33 L445.67,381.12 L444.51,380.91 L443.34,380.68 L442.18,380.45 L441.02,380.21 L439.86,379.96 L438.70,379.70 L437.53,379.43 L436.37,379.15 L435.21,378.87 L434.05,378.58 L432.89,378.28 L431.72,377.98 L430.56,377.68 L429.40,377.36 L428.24,377.05 L427.08,376.73 L425.91,376.41 L424.75,376.09 L423.59,375.77 L422.43,375.45 L421.27,375.13 L420.10,374.81 L418.94,374.49 L417.78,374.17 L416.62,373.85 L415.46,373.53 L414.29,373.21 L413.13,372.89 L411.97,372.56 L410.81,372.24 L409.65,371.91 L408.48,371.57 L407.32,371.23 L406.16,370.88 L405.00,370.53 L403.84,370.17 L402.67,369.80 L401.51,369.42 L400.35,369.03 L399.19,368.64 L398.03,368.23 L396.86,367.81 L395.70,367.37 L394.54,366.93 L393.38,366.47 L392.22,366.00 L391.05,365.51 L389.89,365.00 L388.73,364.48 L387.57,363.94 L386.41,363.39 L385.24,362.82 L384.08,362.22 L382.92,361.62 L381.76,360.99 L380.60,360.34 L379.43,359.68 L378.27,359.00 L377.11,358.30 L375.95,357.58 L374.79,356.84 L373.62,356.08 L372.46,355.31 L371.30,354.54 L370.14,353.78 L368.98,353.04 L367.81,352.33 L366.65,351.66 L365.49,351.05 L364.33,350.49 L363.17,350.01 L362.00,349.61 L360.84,349.29 L359.68,349.07 L358.52,348.96 L357.36,348.96 L356.19,349.08 L355.03,349.34 L353.87,349.73 L352.71,350.25 L351.55,350.89 L350.38,351.64 L349.22,352.49 L348.06,353.42 L346.90,354.43 L345.74,355.49 L344.57,356.61 L343.41,357.77 L342.25,358.98 L341.09,360.23 L339.93,361.52 L338.76,362.86 L337.60,364.24 L336.44,365.66 L335.28,367.12 L334.12,368.63 L332.95,370.16 L331.79,371.72 L330.63,373.29 L329.47,374.85 L328.31,376.39 L327.14,377.90 L325.98,379.36 L324.82,380.77 L323.66,382.12 L322.50,383.38 L321.33,384.54 L320.17,385.60 L319.01,386.56 L317.85,387.43 L316.69,388.23 L315.52,388.98 L314.36,389.69 L313.20,390.39Z" fill="#8a7aa2" clip-path="url(#clipR)"/>
<path d="M313.20,357.49 L314.36,358.77 L315.52,360.02 L316.69,361.19 L317.85,362.25 L319.01,363.16 L320.17,363.89 L321.33,364.39 L322.50,364.64 L323.66,364.60 L324.82,364.22 L325.98,363.48 L327.14,362.33 L328.31,360.74 L329.47,358.68 L330.63,356.24 L331.79,353.53 L332.95,350.69 L334.12,347.86 L335.28,345.15 L336.44,342.65 L337.60,340.36 L338.76,338.27 L339.93,336.37 L341.09,334.64 L342.25,333.08 L343.41,331.67 L344.57,330.41 L345.74,329.28 L346.90,328.29 L348.06,327.43 L349.22,326.71 L350.38,326.11 L351.55,325.65 L352.71,325.32 L353.87,325.11 L355.03,325.03 L356.19,325.05 L357.36,325.17 L358.52,325.39 L359.68,325.69 L360.84,326.07 L362.00,326.52 L363.17,327.03 L364.33,327.58 L365.49,328.18 L366.65,328.82 L367.81,329.49 L368.98,330.18 L370.14,330.91 L371.30,331.65 L372.46,332.40 L373.62,333.17 L374.79,333.95 L375.95,334.73 L377.11,335.51 L378.27,336.29 L379.43,337.07 L380.60,337.84 L381.76,338.59 L382.92,339.34 L384.08,340.07 L385.24,340.79 L386.41,341.48 L387.57,342.15 L388.73,342.79 L389.89,343.41 L391.05,344.00 L392.22,344.56 L393.38,345.10 L394.54,345.61 L395.70,346.10 L396.86,346.57 L398.03,347.01 L399.19,347.44 L400.35,347.85 L401.51,348.25 L402.67,348.62 L403.84,348.98 L405.00,349.33 L406.16,349.66 L407.32,349.99 L408.48,350.30 L409.65,350.60 L410.81,350.90 L411.97,351.19 L413.13,351.47 L414.29,351.75 L415.46,352.02 L416.62,352.29 L417.78,352.56 L418.94,352.83 L420.10,353.10 L421.27,353.37 L422.43,353.65 L423.59,353.92 L424.75,354.20 L425.91,354.47 L427.08,354.74 L428.24,355.02 L429.40,355.29 L430.56,355.55 L431.72,355.82 L432.89,356.08 L434.05,356.34 L435.21,356.59 L436.37,356.84 L437.53,357.09 L438.70,357.33 L439.86,357.56 L441.02,357.79 L442.18,358.01 L443.34,358.23 L444.51,358.43 L445.67,358.63 L446.83,358.83 L447.99,359.02 L449.15,359.20 L450.32,359.38 L451.48,359.55 L452.64,359.72 L453.80,359.88 L454.96,360.04 L456.13,360.19 L457.29,360.34 L458.45,360.49 L459.61,360.63 L460.77,360.76 L461.94,360.89 L463.10,361.02 L464.26,361.15 L465.42,361.27 L466.58,361.39 L467.75,361.50 L468.91,361.61 L470.07,361.72 L471.23,361.83 L472.39,361.94 L473.56,362.04 L474.72,362.14 L475.88,362.24 L477.04,362.33 L478.20,362.43 L479.37,362.52 L480.53,362.62 L481.69,362.71 L482.85,362.80 L484.01,362.89 L485.18,362.98 L486.34,363.07 L487.50,363.16" fill="none" stroke="#34466e" stroke-width="1.2"/>
<path d="M313.20,390.39 L314.36,389.69 L315.52,388.98 L316.69,388.23 L317.85,387.43 L319.01,386.56 L320.17,385.60 L321.33,384.54 L322.50,383.38 L323.66,382.12 L324.82,380.77 L325.98,379.36 L327.14,377.90 L328.31,376.39 L329.47,374.85 L330.63,373.29 L331.79,371.72 L332.95,370.16 L334.12,368.63 L335.28,367.12 L336.44,365.66 L337.60,364.24 L338.76,362.86 L339.93,361.52 L341.09,360.23 L342.25,358.98 L343.41,357.77 L344.57,356.61 L345.74,355.49 L346.90,354.43 L348.06,353.42 L349.22,352.49 L350.38,351.64 L351.55,350.89 L352.71,350.25 L353.87,349.73 L355.03,349.34 L356.19,349.08 L357.36,348.96 L358.52,348.96 L359.68,349.07 L360.84,349.29 L362.00,349.61 L363.17,350.01 L364.33,350.49 L365.49,351.05 L366.65,351.66 L367.81,352.33 L368.98,353.04 L370.14,353.78 L371.30,354.54 L372.46,355.31 L373.62,356.08 L374.79,356.84 L375.95,357.58 L377.11,358.30 L378.27,359.00 L379.43,359.68 L380.60,360.34 L381.76,360.99 L382.92,361.62 L384.08,362.22 L385.24,362.82 L386.41,363.39 L387.57,363.94 L388.73,364.48 L389.89,365.00 L391.05,365.51 L392.22,366.00 L393.38,366.47 L394.54,366.93 L395.70,367.37 L396.86,367.81 L398.03,368.23 L399.19,368.64 L400.35,369.03 L401.51,369.42 L402.67,369.80 L403.84,370.17 L405.00,370.53 L406.16,370.88 L407.32,371.23 L408.48,371.57 L409.65,371.91 L410.81,372.24 L411.97,372.56 L413.13,372.89 L414.29,373.21 L415.46,373.53 L416.62,373.85 L417.78,374.17 L418.94,374.49 L420.10,374.81 L421.27,375.13 L422.43,375.45 L423.59,375.77 L424.75,376.09 L425.91,376.41 L427.08,376.73 L428.24,377.05 L429.40,377.36 L430.56,377.68 L431.72,377.98 L432.89,378.28 L434.05,378.58 L435.21,378.87 L436.37,379.15 L437.53,379.43 L438.70,379.70 L439.86,379.96 L441.02,380.21 L442.18,380.45 L443.34,380.68 L444.51,380.91 L445.67,381.12 L446.83,381.33 L447.99,381.52 L449.15,381.71 L450.32,381.89 L451.48,382.07 L452.64,382.23 L453.80,382.39 L454.96,382.54 L456.13,382.69 L457.29,382.83 L458.45,382.96 L459.61,383.09 L460.77,383.21 L461.94,383.33 L463.10,383.44 L464.26,383.54 L465.42,383.64 L466.58,383.74 L467.75,383.83 L468.91,383.92 L470.07,384.00 L471.23,384.08 L472.39,384.16 L473.56,384.23 L474.72,384.31 L475.88,384.37 L477.04,384.44 L478.20,384.50 L479.37,384.57 L480.53,384.63 L481.69,384.69 L482.85,384.74 L484.01,384.80 L485.18,384.86 L486.34,384.91 L487.50,384.97" fill="none" stroke="#34466e" stroke-width="1.2"/>
<path d="M313.20,336.77 L314.36,341.95 L315.52,347.00 L316.69,351.77 L317.85,356.14 L319.01,359.96 L320.17,363.16 L321.33,365.81 L322.50,367.97 L323.66,369.70 L324.82,371.05 L325.98,371.99 L327.14,372.49 L328.31,372.51 L329.47,372.07 L330.63,371.26 L331.79,370.15 L332.95,368.82 L334.12,367.35 L335.28,365.78 L336.44,364.18 L337.60,362.58 L338.76,361.02 L339.93,359.54 L341.09,358.17 L342.25,356.90 L343.41,355.75 L344.57,354.72 L345.74,353.79 L346.90,352.99 L348.06,352.30 L349.22,351.73 L350.38,351.28 L351.55,350.94 L352.71,350.72 L353.87,350.62 L355.03,350.64 L356.19,350.77 L357.36,351.01 L358.52,351.34 L359.68,351.76 L360.84,352.25 L362.00,352.81 L363.17,353.42 L364.33,354.07 L365.49,354.76 L366.65,355.48 L367.81,356.22 L368.98,356.99 L370.14,357.78 L371.30,358.58 L372.46,359.40 L373.62,360.24 L374.79,361.08 L375.95,361.93 L377.11,362.78 L378.27,363.62 L379.43,364.46 L380.60,365.29 L381.76,366.11 L382.92,366.91 L384.08,367.69 L385.24,368.44 L386.41,369.17 L387.57,369.86 L388.73,370.51 L389.89,371.12 L391.05,371.69 L392.22,372.23 L393.38,372.72 L394.54,373.19 L395.70,373.62 L396.86,374.02 L398.03,374.38 L399.19,374.73 L400.35,375.04 L401.51,375.33 L402.67,375.60 L403.84,375.85 L405.00,376.07 L406.16,376.28 L407.32,376.47 L408.48,376.65 L409.65,376.82 L410.81,376.97 L411.97,377.12 L413.13,377.26 L414.29,377.39 L415.46,377.51 L416.62,377.64 L417.78,377.76 L418.94,377.88 L420.10,378.01 L421.27,378.14 L422.43,378.27 L423.59,378.41 L424.75,378.54 L425.91,378.68 L427.08,378.82 L428.24,378.96 L429.40,379.10 L430.56,379.24 L431.72,379.38 L432.89,379.52 L434.05,379.66 L435.21,379.79 L436.37,379.92 L437.53,380.05 L438.70,380.18 L439.86,380.30 L441.02,380.42 L442.18,380.53 L443.34,380.64 L444.51,380.74 L445.67,380.84 L446.83,380.94 L447.99,381.03 L449.15,381.12 L450.32,381.20 L451.48,381.28 L452.64,381.36 L453.80,381.43 L454.96,381.50 L456.13,381.57 L457.29,381.63 L458.45,381.69 L459.61,381.75 L460.77,381.80 L461.94,381.86 L463.10,381.90 L464.26,381.95 L465.42,382.00 L466.58,382.04 L467.75,382.08 L468.91,382.12 L470.07,382.15 L471.23,382.19 L472.39,382.22 L473.56,382.25 L474.72,382.28 L475.88,382.31 L477.04,382.34 L478.20,382.37 L479.37,382.39 L480.53,382.42 L481.69,382.44 L482.85,382.47 L484.01,382.49 L485.18,382.51 L486.34,382.53 L487.50,382.56" fill="none" stroke="#8e2352" stroke-width="1.2"/>
<path d="M313.20,374.72 L314.36,377.10 L315.52,379.46 L316.69,381.79 L317.85,384.09 L319.01,386.34 L320.17,388.52 L321.33,390.60 L322.50,392.51 L323.66,394.15 L324.82,395.43 L325.98,396.28 L327.14,396.62 L328.31,396.47 L329.47,395.92 L330.63,395.05 L331.79,393.95 L332.95,392.70 L334.12,391.38 L335.28,390.07 L336.44,388.83 L337.60,387.67 L338.76,386.57 L339.93,385.53 L341.09,384.56 L342.25,383.64 L343.41,382.77 L344.57,381.95 L345.74,381.18 L346.90,380.46 L348.06,379.82 L349.22,379.24 L350.38,378.75 L351.55,378.35 L352.71,378.03 L353.87,377.82 L355.03,377.72 L356.19,377.73 L357.36,377.84 L358.52,378.04 L359.68,378.32 L360.84,378.67 L362.00,379.08 L363.17,379.53 L364.33,380.02 L365.49,380.54 L366.65,381.09 L367.81,381.67 L368.98,382.29 L370.14,382.97 L371.30,383.70 L372.46,384.49 L373.62,385.35 L374.79,386.29 L375.95,387.31 L377.11,388.39 L378.27,389.50 L379.43,390.65 L380.60,391.81 L381.76,392.95 L382.92,394.08 L384.08,395.16 L385.24,396.18 L386.41,397.14 L387.57,398.03 L388.73,398.86 L389.89,399.63 L391.05,400.35 L392.22,401.03 L393.38,401.66 L394.54,402.26 L395.70,402.82 L396.86,403.36 L398.03,403.87 L399.19,404.37 L400.35,404.85 L401.51,405.32 L402.67,405.78 L403.84,406.24 L405.00,406.68 L406.16,407.10 L407.32,407.52 L408.48,407.92 L409.65,408.30 L410.81,408.67 L411.97,409.02 L413.13,409.36 L414.29,409.67 L415.46,409.96 L416.62,410.24 L417.78,410.49 L418.94,410.72 L420.10,410.92 L421.27,411.11 L422.43,411.26 L423.59,411.40 L424.75,411.52 L425.91,411.62 L427.08,411.70 L428.24,411.76 L429.40,411.81 L430.56,411.84 L431.72,411.86 L432.89,411.87 L434.05,411.87 L435.21,411.86 L436.37,411.84 L437.53,411.82 L438.70,411.78 L439.86,411.75 L441.02,411.71 L442.18,411.67 L443.34,411.62 L444.51,411.58 L445.67,411.53 L446.83,411.48 L447.99,411.42 L449.15,411.37 L450.32,411.31 L451.48,411.25 L452.64,411.19 L453.80,411.13 L454.96,411.07 L456.13,411.00 L457.29,410.93 L458.45,410.87 L459.61,410.80 L460.77,410.72 L461.94,410.65 L463.10,410.58 L464.26,410.50 L465.42,410.43 L466.58,410.35 L467.75,410.27 L468.91,410.19 L470.07,410.11 L471.23,410.03 L472.39,409.95 L473.56,409.86 L474.72,409.78 L475.88,409.69 L477.04,409.61 L478.20,409.52 L479.37,409.44 L480.53,409.35 L481.69,409.26 L482.85,409.18 L484.01,409.09 L485.18,409.00 L486.34,408.91 L487.50,408.83" fill="none" stroke="#a01c48" stroke-width="1.2"/>
<path d="M313.20,373.52 L314.36,373.83 L315.52,374.11 L316.69,374.34 L317.85,374.49 L319.01,374.54 L320.17,374.46 L321.33,374.22 L322.50,373.81 L323.66,373.20 L324.82,372.38 L325.98,371.34 L327.14,370.04 L328.31,368.49 L329.47,366.70 L330.63,364.73 L331.79,362.63 L332.95,360.45 L334.12,358.27 L335.28,356.12 L336.44,354.06 L337.60,352.09 L338.76,350.22 L339.93,348.47 L341.09,346.84 L342.25,345.33 L343.41,343.97 L344.57,342.74 L345.74,341.68 L346.90,340.76 L348.06,339.98 L349.22,339.34 L350.38,338.82 L351.55,338.40 L352.71,338.08 L353.87,337.85 L355.03,337.70 L356.19,337.62 L357.36,337.60 L358.52,337.66 L359.68,337.79 L360.84,337.99 L362.00,338.27 L363.17,338.63 L364.33,339.06 L365.49,339.57 L366.65,340.15 L367.81,340.79 L368.98,341.49 L370.14,342.23 L371.30,343.00 L372.46,343.79 L373.62,344.60 L374.79,345.40 L375.95,346.21 L377.11,347.01 L378.27,347.79 L379.43,348.57 L380.60,349.34 L381.76,350.09 L382.92,350.83 L384.08,351.55 L385.24,352.26 L386.41,352.94 L387.57,353.60 L388.73,354.24 L389.89,354.85 L391.05,355.44 L392.22,356.01 L393.38,356.55 L394.54,357.08 L395.70,357.58 L396.86,358.06 L398.03,358.53 L399.19,358.97 L400.35,359.40 L401.51,359.82 L402.67,360.22 L403.84,360.61 L405.00,360.98 L406.16,361.35 L407.32,361.70 L408.48,362.04 L409.65,362.38 L410.81,362.70 L411.97,363.02 L413.13,363.34 L414.29,363.65 L415.46,363.95 L416.62,364.26 L417.78,364.56 L418.94,364.86 L420.10,365.16 L421.27,365.46 L422.43,365.76 L423.59,366.06 L424.75,366.36 L425.91,366.66 L427.08,366.96 L428.24,367.25 L429.40,367.55 L430.56,367.84 L431.72,368.12 L432.89,368.40 L434.05,368.68 L435.21,368.95 L436.37,369.21 L437.53,369.47 L438.70,369.72 L439.86,369.97 L441.02,370.20 L442.18,370.43 L443.34,370.65 L444.51,370.87 L445.67,371.07 L446.83,371.27 L447.99,371.46 L449.15,371.65 L450.32,371.83 L451.48,372.00 L452.64,372.16 L453.80,372.32 L454.96,372.47 L456.13,372.62 L457.29,372.76 L458.45,372.90 L459.61,373.03 L460.77,373.16 L461.94,373.28 L463.10,373.40 L464.26,373.51 L465.42,373.62 L466.58,373.73 L467.75,373.83 L468.91,373.93 L470.07,374.03 L471.23,374.12 L472.39,374.21 L473.56,374.29 L474.72,374.38 L475.88,374.46 L477.04,374.54 L478.20,374.62 L479.37,374.70 L480.53,374.77 L481.69,374.85 L482.85,374.92 L484.01,374.99 L485.18,375.06 L486.34,375.14 L487.50,375.21" fill="none" stroke="#2c3a62" stroke-width="1.8"/>
<path d="M313.20,362.07 L314.36,364.56 L315.52,367.02 L316.69,369.43 L317.85,371.77 L319.01,374.01 L320.17,376.13 L321.33,378.10 L322.50,379.86 L323.66,381.33 L324.82,382.42 L325.98,383.05 L327.14,383.12 L328.31,382.62 L329.47,381.65 L330.63,380.33 L331.79,378.77 L332.95,377.10 L334.12,375.42 L335.28,373.87 L336.44,372.51 L337.60,371.34 L338.76,370.32 L339.93,369.44 L341.09,368.68 L342.25,368.02 L343.41,367.43 L344.57,366.89 L345.74,366.39 L346.90,365.93 L348.06,365.50 L349.22,365.13 L350.38,364.82 L351.55,364.57 L352.71,364.38 L353.87,364.27 L355.03,364.24 L356.19,364.30 L357.36,364.43 L358.52,364.65 L359.68,364.93 L360.84,365.29 L362.00,365.72 L363.17,366.20 L364.33,366.75 L365.49,367.35 L366.65,368.00 L367.81,368.69 L368.98,369.42 L370.14,370.17 L371.30,370.95 L372.46,371.75 L373.62,372.55 L374.79,373.36 L375.95,374.16 L377.11,374.96 L378.27,375.76 L379.43,376.55 L380.60,377.32 L381.76,378.09 L382.92,378.85 L384.08,379.60 L385.24,380.33 L386.41,381.05 L387.57,381.75 L388.73,382.44 L389.89,383.11 L391.05,383.76 L392.22,384.41 L393.38,385.03 L394.54,385.64 L395.70,386.23 L396.86,386.81 L398.03,387.37 L399.19,387.91 L400.35,388.44 L401.51,388.95 L402.67,389.44 L403.84,389.92 L405.00,390.38 L406.16,390.82 L407.32,391.24 L408.48,391.64 L409.65,392.03 L410.81,392.40 L411.97,392.75 L413.13,393.08 L414.29,393.39 L415.46,393.68 L416.62,393.96 L417.78,394.21 L418.94,394.44 L420.10,394.66 L421.27,394.86 L422.43,395.03 L423.59,395.19 L424.75,395.33 L425.91,395.46 L427.08,395.58 L428.24,395.68 L429.40,395.76 L430.56,395.84 L431.72,395.90 L432.89,395.96 L434.05,396.01 L435.21,396.05 L436.37,396.08 L437.53,396.11 L438.70,396.14 L439.86,396.16 L441.02,396.18 L442.18,396.20 L443.34,396.21 L444.51,396.23 L445.67,396.24 L446.83,396.26 L447.99,396.27 L449.15,396.28 L450.32,396.29 L451.48,396.29 L452.64,396.30 L453.80,396.31 L454.96,396.31 L456.13,396.32 L457.29,396.32 L458.45,396.32 L459.61,396.32 L460.77,396.32 L461.94,396.32 L463.10,396.32 L464.26,396.32 L465.42,396.31 L466.58,396.31 L467.75,396.31 L468.91,396.30 L470.07,396.30 L471.23,396.29 L472.39,396.28 L473.56,396.28 L474.72,396.27 L475.88,396.26 L477.04,396.26 L478.20,396.25 L479.37,396.24 L480.53,396.23 L481.69,396.22 L482.85,396.21 L484.01,396.20 L485.18,396.19 L486.34,396.18 L487.50,396.17" fill="none" stroke="#9a1040" stroke-width="1.8"/>
<line x1="304.60" y1="321.00" x2="304.60" y2="417.50" stroke="#000" stroke-width="1.3"/>
<line x1="304.00" y1="416.80" x2="489.40" y2="416.80" stroke="#000" stroke-width="1.6"/>
<line x1="301.00" y1="416.90" x2="304.60" y2="416.90" stroke="#000" stroke-width="1"/>
<text x="298.80" y="419.80" font-size="8" text-anchor="end" fill="#2a2a2a" stroke="#2a2a2a" stroke-width="0.22" font-weight="normal" >0</text>
<line x1="301.00" y1="392.80" x2="304.60" y2="392.80" stroke="#000" stroke-width="1"/>
<text x="298.80" y="395.70" font-size="8" text-anchor="end" fill="#2a2a2a" stroke="#2a2a2a" stroke-width="0.22" font-weight="normal" >20</text>
<line x1="301.00" y1="368.70" x2="304.60" y2="368.70" stroke="#000" stroke-width="1"/>
<text x="298.80" y="371.60" font-size="8" text-anchor="end" fill="#2a2a2a" stroke="#2a2a2a" stroke-width="0.22" font-weight="normal" >40</text>
<line x1="301.00" y1="344.60" x2="304.60" y2="344.60" stroke="#000" stroke-width="1"/>
<text x="298.80" y="347.50" font-size="8" text-anchor="end" fill="#2a2a2a" stroke="#2a2a2a" stroke-width="0.22" font-weight="normal" >60</text>
<line x1="313.20" y1="416.80" x2="313.20" y2="419.80" stroke="#000" stroke-width="1"/>
<text x="313.20" y="430.40" font-size="8" text-anchor="middle" fill="#2a2a2a" stroke="#2a2a2a" stroke-width="0.22" font-weight="normal" >0</text>
<line x1="371.30" y1="416.80" x2="371.30" y2="419.80" stroke="#000" stroke-width="1"/>
<text x="371.30" y="430.40" font-size="8" text-anchor="middle" fill="#2a2a2a" stroke="#2a2a2a" stroke-width="0.22" font-weight="normal" >20</text>
<line x1="429.40" y1="416.80" x2="429.40" y2="419.80" stroke="#000" stroke-width="1"/>
<text x="429.40" y="430.40" font-size="8" text-anchor="middle" fill="#2a2a2a" stroke="#2a2a2a" stroke-width="0.22" font-weight="normal" >40</text>
<line x1="487.50" y1="416.80" x2="487.50" y2="419.80" stroke="#000" stroke-width="1"/>
<text x="487.50" y="430.40" font-size="8" text-anchor="middle" fill="#2a2a2a" stroke="#2a2a2a" stroke-width="0.22" font-weight="normal" >60</text>
<text transform="translate(400.3,443) scale(0.72,1)" x="0" y="0" font-size="9" text-anchor="middle" fill="#2a2a2a" font-weight="bold">Days</text>
<text transform="translate(283.00,369.00) rotate(-90)" x="-22.00" y="0" font-size="8.3" text-anchor="start" textLength="44" lengthAdjust="spacingAndGlyphs" fill="#2a2a2a" font-weight="bold">sGPVI (ng/mL)</text>
<rect x="441.7" y="321.5" width="9" height="8" fill="#8d9cc0" stroke="#3a4a74" stroke-width="1.1"/>
<rect x="441.7" y="333" width="9" height="8" fill="#d8728b" stroke="#9a1c44" stroke-width="1.1"/>
<text x="453.60" y="328.40" font-size="7.6" text-anchor="start" fill="#2a2a2a" stroke="#2a2a2a" stroke-width="0.22" font-weight="normal" >Septic</text>
<text x="453.60" y="339.90" font-size="7.35" text-anchor="start" fill="#2a2a2a" stroke="#2a2a2a" stroke-width="0.22" font-weight="normal" >Non-septic</text>
</svg></body></html>
